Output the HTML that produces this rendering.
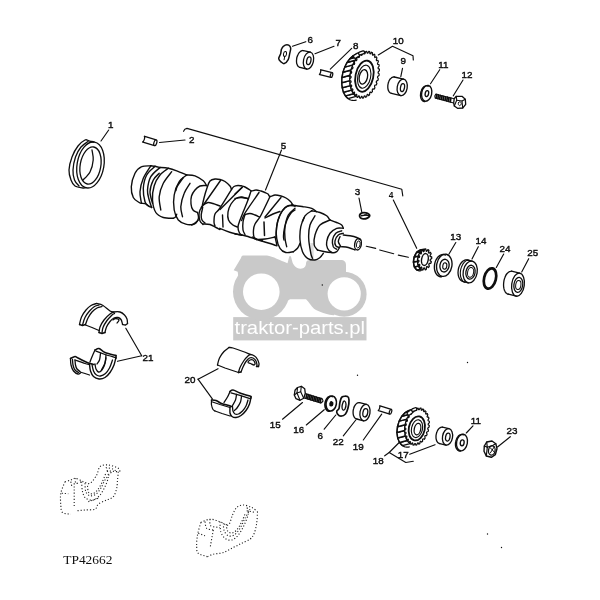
<!DOCTYPE html>
<html><head><meta charset="utf-8"><title>TP42662</title>
<style>html,body{margin:0;padding:0;background:#fff;}svg{display:block;will-change:transform;}</style></head>
<body>
<svg width="600" height="600" viewBox="0 0 600 600">
<rect width="600" height="600" fill="#ffffff"/>
<g fill="#c9c9c9" stroke="none">
<rect x="233.2" y="317.1" width="133.3" height="23.3"/>
<circle cx="261.3" cy="291.7" r="28.3"/>
<circle cx="344.1" cy="294.2" r="22.5"/>
<path d="M243 255.6 L267 255.6 C273 256.5 280 260.5 287.5 263.3 L289.3 256.2 L290.9 256.2 L292 260.5 C293 265 296 268.7 300.5 268.7 C304.5 268.7 306 266 306 263.5 C306 261 307.5 260 310 260 L340.5 260 C344.5 260 346 262 346 265 L346 272 L355 278 L345 300 L334 315.3 C327 314.5 319 312 314 308.7 C311 306 309 302 306 299.3 L290 299.3 L280 306 L240 290 L237.7 271.7 L233.7 270.3 L241 258 C241.3 256.5 242 255.6 243 255.6 Z"/>
</g>
<rect x="310.3" y="243" width="3.4" height="17" fill="#dedede"/>
<circle cx="261.3" cy="291.7" r="18.3" fill="#fff"/>
<circle cx="344.2" cy="293.8" r="16.6" fill="#fff"/>
<text x="234.5" y="333.8" font-family="Liberation Sans, sans-serif" font-size="18.4" fill="#ffffff" textLength="130.6" lengthAdjust="spacingAndGlyphs">traktor-parts.pl</text>
<path d="M150.8 165.8C149.3 166 144.3 165.4 141.7 166.7C139 167.9 136.7 170 135 173.3C133.3 176.7 131.6 182.6 131.3 186.7C131.1 190.7 132 194.9 133.3 197.5C134.6 200.1 137.8 201.5 139.2 202.5C140.6 203.5 141.2 203.2 141.7 203.3" fill="none" stroke="#0e0e0e" stroke-width="1.4" stroke-linecap="round" stroke-linejoin="round"/>
<path d="M150.8 165.8C149.6 167.9 145.1 174 143.3 178.3C141.5 182.6 140.3 187.6 140 191.7C139.7 195.7 141.1 200.7 141.3 202.5" fill="none" stroke="#0e0e0e" stroke-width="1.4" stroke-linecap="round" stroke-linejoin="round"/>
<path d="M155 166.3C153.6 167.8 148.6 171.3 146.7 175C144.7 178.7 143.6 183.9 143.3 188.3C143.1 192.8 144.2 198.8 145 201.7C145.8 204.6 147.8 205.1 148.3 205.8" fill="none" stroke="#0e0e0e" stroke-width="1.4" stroke-linecap="round" stroke-linejoin="round"/>
<path d="M160 167.5C158.5 169 152.9 172.9 150.8 176.7C148.8 180.4 147.8 186.1 147.5 190C147.2 193.9 148.5 197.1 149.2 200C149.9 202.9 151.2 206.2 151.7 207.5" fill="none" stroke="#0e0e0e" stroke-width="1.4" stroke-linecap="round" stroke-linejoin="round"/>
<path d="M159.2 173.3C158.2 174.4 154.9 176.9 153.3 180C151.8 183.1 150.1 187.8 150 191.7C149.9 195.6 152.1 201.4 152.5 203.3" fill="none" stroke="#0e0e0e" stroke-width="1.4" stroke-linecap="round" stroke-linejoin="round"/>
<path d="M150.8 165.8C151.5 165.9 153.5 166.1 155 166.3C156.5 166.6 159.2 167.3 160 167.5" fill="none" stroke="#0e0e0e" stroke-width="1.4" stroke-linecap="round" stroke-linejoin="round"/>
<path d="M141.7 203.3C142.2 203.4 143.9 203.2 145 203.7C146.1 204.1 147.2 205.2 148.3 205.8C149.4 206.5 151.1 207.2 151.7 207.5" fill="none" stroke="#0e0e0e" stroke-width="1.4" stroke-linecap="round" stroke-linejoin="round"/>
<path d="M160 167.5C161.4 167.6 165.6 167.8 168.3 168.3C171.1 168.9 173.6 169.7 176.7 170.8C179.7 171.9 185 174.3 186.7 175" fill="none" stroke="#0e0e0e" stroke-width="1.4" stroke-linecap="round" stroke-linejoin="round"/>
<path d="M168.3 168.3C166.9 169.4 162.4 172.1 160 175C157.6 177.9 155.4 181.7 154.2 185.8C152.9 190 152.2 195.6 152.5 200C152.8 204.4 154 209.6 155.8 212.5C157.6 215.4 160.4 216.5 163.3 217.5C166.2 218.5 171.7 218.2 173.3 218.3" fill="none" stroke="#0e0e0e" stroke-width="1.4" stroke-linecap="round" stroke-linejoin="round"/>
<path d="M171.7 171.7C170.3 173.6 165.4 179.2 163.3 183.3C161.2 187.5 159.6 192.2 159.2 196.7C158.8 201.1 160.6 207.8 160.8 210" fill="none" stroke="#0e0e0e" stroke-width="1.4" stroke-linecap="round" stroke-linejoin="round"/>
<path d="M186.7 175C185.4 176.1 181.2 178.3 179.2 181.7C177.1 185 175 190.3 174.2 195C173.3 199.7 173.5 205.8 174.2 210C174.9 214.2 176.4 217.6 178.3 220C180.3 222.4 183.3 223.5 185.8 224.2C188.3 224.9 191.2 224.9 193.3 224.2C195.4 223.5 197.5 220.7 198.3 220" fill="none" stroke="#0e0e0e" stroke-width="1.4" stroke-linecap="round" stroke-linejoin="round"/>
<path d="M186.7 175C188.1 175.1 192.2 174.9 195 175.8C197.8 176.8 201.4 179.2 203.3 180.8C205.3 182.5 206.1 185 206.7 185.8" fill="none" stroke="#0e0e0e" stroke-width="1.4" stroke-linecap="round" stroke-linejoin="round"/>
<path d="M183.3 177.5C182.4 178.9 178.8 183.6 177.5 185.8C176.2 188.1 176.1 190 175.8 190.8" fill="none" stroke="#0e0e0e" stroke-width="1.4" stroke-linecap="round" stroke-linejoin="round"/>
<path d="M190 183.3C189 185 185.7 189.4 184.2 193.3C182.6 197.2 181.1 202.8 180.8 206.7C180.6 210.6 182.2 215 182.5 216.7" fill="none" stroke="#0e0e0e" stroke-width="1.4" stroke-linecap="round" stroke-linejoin="round"/>
<path d="M173.3 218.3C173.8 218.1 175.3 217.4 175.8 216.7C176.4 216 176.5 214.6 176.7 214.2" fill="none" stroke="#0e0e0e" stroke-width="1.4" stroke-linecap="round" stroke-linejoin="round"/>
<path d="M206 185.5C205 185.6 201.8 185.2 200 186C198.2 186.8 196.4 188.3 195 190C193.6 191.7 192.2 193.7 191.5 196C190.8 198.3 190.8 201.7 191 204C191.2 206.3 191.9 208.6 193 210C194.1 211.4 196.8 212.1 197.5 212.5" fill="none" stroke="#0e0e0e" stroke-width="1.4" stroke-linecap="round" stroke-linejoin="round"/>
<path d="M197.5 212.5C197.7 213.4 198.8 216.2 198.5 218C198.2 219.8 197.2 221.8 196 223C194.8 224.2 192.2 224.7 191.5 225" fill="none" stroke="#0e0e0e" stroke-width="1.4" stroke-linecap="round" stroke-linejoin="round"/>
<path d="M202 207C202.3 205.5 203.2 201.2 204 198C204.8 194.8 206 190.8 207 188C208 185.2 208.7 182.5 210 181C211.3 179.5 213.3 179.2 215 179C216.7 178.8 218.3 179.1 220 179.5C221.7 179.9 223.3 180.4 225 181.5C226.7 182.6 228.9 184.7 230 186C231.1 187.3 231.2 188.9 231.5 189.5" fill="none" stroke="#0e0e0e" stroke-width="1.4" stroke-linecap="round" stroke-linejoin="round"/>
<path d="M220.5 180.5L203 205.5" fill="none" stroke="#0e0e0e" stroke-width="1.4" stroke-linecap="round" stroke-linejoin="round"/>
<path d="M204 204.5C204.7 204.2 206.5 202.7 208 202.5C209.5 202.3 211 202.9 213 203.5C215 204.1 218.8 205.6 220 206" fill="none" stroke="#0e0e0e" stroke-width="1.4" stroke-linecap="round" stroke-linejoin="round"/>
<path d="M202 207C201.7 207.5 200.5 208.7 200 210C199.5 211.3 199 213.2 199 215C199 216.8 199.3 219.4 200 221C200.7 222.6 202.5 223.9 203 224.5" fill="none" stroke="#0e0e0e" stroke-width="1.4" stroke-linecap="round" stroke-linejoin="round"/>
<path d="M202.5 208.5C202.3 209.6 201.3 213.1 201.2 215C201.1 216.9 201.4 218.7 202 220C202.6 221.3 204.5 222.5 205 223" fill="none" stroke="#0e0e0e" stroke-width="1.4" stroke-linecap="round" stroke-linejoin="round"/>
<circle cx="202" cy="207.3" r="1.3" fill="#0e0e0e"/>
<path d="M203 224C204.2 224.1 207.8 223.9 210 224.5C212.2 225.1 214.3 226.7 216 227.5C217.7 228.3 219.3 229.2 220 229.5" fill="none" stroke="#0e0e0e" stroke-width="1.4" stroke-linecap="round" stroke-linejoin="round"/>
<path d="M231.5 189.5C229.6 192.6 222.8 203.9 220 208C217.2 212.1 216 211.7 215 214C214 216.3 214 220 214 222C214 224 214.8 225.3 215 226" fill="none" stroke="#0e0e0e" stroke-width="1.4" stroke-linecap="round" stroke-linejoin="round"/>
<path d="M242 187.5L220 209.5" fill="none" stroke="#0e0e0e" stroke-width="1.4" stroke-linecap="round" stroke-linejoin="round"/>
<path d="M231.5 189.5C231.9 189 232.9 187.2 234 186.5C235.1 185.8 236.8 185.6 238 185.5C239.2 185.4 240.5 185.8 241 185.8" fill="none" stroke="#0e0e0e" stroke-width="1.4" stroke-linecap="round" stroke-linejoin="round"/>
<path d="M222.5 215L223 227" fill="none" stroke="#0e0e0e" stroke-width="1.4" stroke-linecap="round" stroke-linejoin="round"/>
<path d="M248 199C247 198.7 244 197.1 242 197C240 196.9 237.8 197.3 236 198.5C234.2 199.7 232.3 201.8 231 204C229.7 206.2 228.4 209.3 228 212C227.6 214.7 227.7 217.8 228.5 220C229.3 222.2 231.5 223.8 233 225C234.5 226.2 236.8 226.7 237.5 227" fill="none" stroke="#0e0e0e" stroke-width="1.4" stroke-linecap="round" stroke-linejoin="round"/>
<path d="M241 185.7C241.7 185.9 243.5 186.3 245 187C246.5 187.7 248.9 189.3 250 190C251.1 190.7 250.5 191 251.5 191C252.5 191 254.4 190 256 190C257.6 190 259.5 190.6 261 191C262.5 191.4 263.8 192 265 192.5C266.2 193 267.2 193.3 268 194C268.8 194.7 268.8 196.3 270 196.5C271.2 196.7 273.2 195.1 275 195C276.8 194.9 279.2 195.5 281 196C282.8 196.5 284.4 197.1 286 198C287.6 198.9 289.3 200.3 290.5 201.5C291.7 202.7 292.2 204.2 293 205C293.8 205.8 294.7 205.8 295 206" fill="none" stroke="#0e0e0e" stroke-width="1.4" stroke-linecap="round" stroke-linejoin="round"/>
<path d="M242.5 187L235 194" fill="none" stroke="#0e0e0e" stroke-width="1.4" stroke-linecap="round" stroke-linejoin="round"/>
<path d="M235 198.5C236 198.3 238.8 197.5 241 197.5C243.2 197.5 246.8 198.3 248 198.5" fill="none" stroke="#0e0e0e" stroke-width="1.4" stroke-linecap="round" stroke-linejoin="round"/>
<path d="M251 191C250.5 192.5 249.2 196.8 248 200C246.8 203.2 245.3 206.7 244 210C242.7 213.3 241 217.2 240 220C239 222.8 238.1 224.8 238 227C237.9 229.2 238.8 231.7 239.5 233C240.2 234.3 241.6 234.7 242 235" fill="none" stroke="#0e0e0e" stroke-width="1.4" stroke-linecap="round" stroke-linejoin="round"/>
<path d="M259 192.5C256.7 195.9 247.9 208.3 245 213C242.1 217.7 242.2 219.2 241.6 220.5" fill="none" stroke="#0e0e0e" stroke-width="1.4" stroke-linecap="round" stroke-linejoin="round"/>
<path d="M245 214.5C245.8 214.3 248.3 213.4 250 213.5C251.7 213.6 253.4 214.4 255 215C256.6 215.6 258.8 216.7 259.5 217" fill="none" stroke="#0e0e0e" stroke-width="1.4" stroke-linecap="round" stroke-linejoin="round"/>
<path d="M245 214.5C244.7 215.8 243.3 219.4 243 222C242.7 224.6 242.7 227.9 243 230C243.3 232.1 244.7 233.8 245 234.5" fill="none" stroke="#0e0e0e" stroke-width="1.4" stroke-linecap="round" stroke-linejoin="round"/>
<path d="M270 196.5C269.2 198.2 266.7 203.6 265 207C263.3 210.4 261.7 214.2 260 217C258.3 219.8 256.1 221.8 255 224C253.9 226.2 253.7 227.8 253.5 230C253.3 232.2 253.5 235.4 254 237C254.5 238.6 256.1 239.1 256.5 239.5" fill="none" stroke="#0e0e0e" stroke-width="1.4" stroke-linecap="round" stroke-linejoin="round"/>
<path d="M281 197.5L265 217" fill="none" stroke="#0e0e0e" stroke-width="1.4" stroke-linecap="round" stroke-linejoin="round"/>
<path d="M265 218C266.3 217.3 270.5 215.1 273 214C275.5 212.9 278.8 211.9 280 211.5" fill="none" stroke="#0e0e0e" stroke-width="1.4" stroke-linecap="round" stroke-linejoin="round"/>
<path d="M264 222L264.5 235.5" fill="none" stroke="#0e0e0e" stroke-width="1.5" stroke-linecap="round" stroke-linejoin="round"/>
<path d="M295 206C294 205.9 290.7 205.2 289 205.5C287.3 205.8 286.3 206.8 285 208C283.7 209.2 282.2 211 281 213C279.8 215 278.8 217.5 278 220C277.2 222.5 276.8 225.3 276.5 228C276.2 230.7 276.1 234.7 276 236" fill="none" stroke="#0e0e0e" stroke-width="1.4" stroke-linecap="round" stroke-linejoin="round"/>
<path d="M295 210C294.3 210.5 292.3 211.3 291 213C289.7 214.7 288.1 217.5 287 220C285.9 222.5 285.1 225.3 284.5 228C283.9 230.7 283.6 234 283.5 236C283.4 238 283.9 239.3 284 240" fill="none" stroke="#0e0e0e" stroke-width="1.4" stroke-linecap="round" stroke-linejoin="round"/>
<path d="M235 234C236.2 234.2 239.8 234.6 242 235C244.2 235.4 245.8 235.8 248 236.5C250.2 237.2 253.8 238.6 255 239" fill="none" stroke="#0e0e0e" stroke-width="1.4" stroke-linecap="round" stroke-linejoin="round"/>
<path d="M256.5 239.5C257.9 239.4 261.9 239.4 265 239C268.1 238.6 273.3 237.3 275 237" fill="none" stroke="#0e0e0e" stroke-width="1.4" stroke-linecap="round" stroke-linejoin="round"/>
<path d="M219.7 228.3C220.2 228.6 220.9 228.9 223 229.7C225.1 230.4 229.2 232.1 232.3 233C235.4 233.9 240.1 234.9 241.7 235.3" fill="none" stroke="#0e0e0e" stroke-width="1.4" stroke-linecap="round" stroke-linejoin="round"/>
<path d="M252.3 237C253.4 237.6 257.4 239.7 259 240.3C260.6 241 260.1 240.6 261.7 241C263.2 241.4 265.9 242.2 268.3 243C270.8 243.8 275 245.2 276.3 245.7" fill="none" stroke="#0e0e0e" stroke-width="1.4" stroke-linecap="round" stroke-linejoin="round"/>
<path d="M275 236.6L277 245.7" fill="none" stroke="#0e0e0e" stroke-width="1.4" stroke-linecap="round" stroke-linejoin="round"/>
<circle cx="261.7" cy="240.2" r="1.2" fill="#0e0e0e"/>
<path d="M291.7 205C290.6 205.4 286.9 205.8 285 207.5C283.1 209.2 281.4 211.8 280 215C278.6 218.2 277.2 222.8 276.7 226.7C276.1 230.6 276.1 234.7 276.7 238.3C277.2 241.9 278.5 246 280 248.3C281.5 250.7 283.6 251.9 285.8 252.5C288.1 253.1 292.1 251.8 293.3 251.7" fill="none" stroke="#0e0e0e" stroke-width="1.4" stroke-linecap="round" stroke-linejoin="round"/>
<path d="M291.7 205C293.6 205.3 300 206.1 303.3 206.7C306.7 207.2 309.4 207.5 311.7 208.3C313.9 209.2 315.8 211.1 316.7 211.7" fill="none" stroke="#0e0e0e" stroke-width="1.4" stroke-linecap="round" stroke-linejoin="round"/>
<path d="M295 208.3C293.9 209.4 290 211.9 288.3 215C286.7 218.1 285.6 222.8 285 226.7C284.4 230.6 284.7 235 285 238.3C285.3 241.7 286.4 245.3 286.7 246.7" fill="none" stroke="#0e0e0e" stroke-width="1.4" stroke-linecap="round" stroke-linejoin="round"/>
<path d="M293.3 251.7C294 251.1 296.4 249.7 297.5 248.3C298.6 246.9 299.6 244.2 300 243.3" fill="none" stroke="#0e0e0e" stroke-width="1.4" stroke-linecap="round" stroke-linejoin="round"/>
<path d="M311.7 210.8C310.6 211.7 306.8 213.2 305 215.8C303.2 218.5 301.7 222.6 300.8 226.7C300 230.7 299.7 235.8 300 240C300.3 244.2 301.2 248.6 302.5 251.7C303.8 254.7 305.4 256.9 307.5 258.3C309.6 259.7 312.9 260.1 315 260C317.1 259.9 318.6 258.6 320 257.5C321.4 256.4 322.8 254 323.3 253.3" fill="none" stroke="#0e0e0e" stroke-width="1.4" stroke-linecap="round" stroke-linejoin="round"/>
<path d="M311.7 210.8C313.1 211.1 317.5 211.7 320 212.5C322.5 213.3 325 214.6 326.7 215.8C328.3 217.1 329.4 219.3 330 220" fill="none" stroke="#0e0e0e" stroke-width="1.4" stroke-linecap="round" stroke-linejoin="round"/>
<path d="M315 215.8C314.2 217.4 311.1 221.2 310 225C308.9 228.8 308.5 233.6 308.7 238.3C308.8 243.1 310.2 250 310.8 253.3C311.5 256.7 312.2 257.5 312.5 258.3" fill="none" stroke="#0e0e0e" stroke-width="1.4" stroke-linecap="round" stroke-linejoin="round"/>
<path d="M304.2 217.5L302.5 221.7" fill="none" stroke="#0e0e0e" stroke-width="1.4" stroke-linecap="round" stroke-linejoin="round"/>
<path d="M330 220C328.3 220.8 322.5 222.5 320 225C317.5 227.5 316 231.7 315 235C314 238.3 313.8 242.5 314.2 245C314.6 247.5 316.9 249.2 317.5 250" fill="none" stroke="#0e0e0e" stroke-width="1.4" stroke-linecap="round" stroke-linejoin="round"/>
<path d="M330 220C331.1 220.4 334.7 221.7 336.7 222.5C338.6 223.3 340.6 224 341.7 225C342.8 226 343.1 227.8 343.3 228.3" fill="none" stroke="#0e0e0e" stroke-width="1.4" stroke-linecap="round" stroke-linejoin="round"/>
<path d="M317.5 250C318.8 250.3 322.6 251.3 325 251.7C327.4 252.1 330.6 252.4 331.7 252.5" fill="none" stroke="#0e0e0e" stroke-width="1.4" stroke-linecap="round" stroke-linejoin="round"/>
<path d="M343.3 228.3C342.2 228.3 338.9 227.5 336.7 228.3C334.4 229.2 331.7 231.1 330 233.3C328.3 235.6 327.1 239.2 326.7 241.7C326.2 244.2 326.7 246.5 327.5 248.3C328.3 250.1 330.1 251.9 331.7 252.5C333.2 253.1 335.3 252.6 336.7 251.7C338.1 250.7 339.4 247.5 340 246.7" fill="none" stroke="#0e0e0e" stroke-width="1.4" stroke-linecap="round" stroke-linejoin="round"/>
<path d="M341.7 230.8C340.7 231.2 337.4 231.8 335.8 233.3C334.3 234.9 332.9 237.8 332.5 240C332.1 242.2 332.6 245.1 333.3 246.7C334 248.2 336.1 248.8 336.7 249.2" fill="none" stroke="#0e0e0e" stroke-width="1.4" stroke-linecap="round" stroke-linejoin="round"/>
<path d="M343.3 233.3C342.5 233.6 339.7 233.8 338.3 235C336.9 236.2 335.4 239 335 240.8C334.6 242.6 335.1 244.7 335.8 245.8C336.5 246.9 338.6 247.2 339.2 247.5" fill="none" stroke="#0e0e0e" stroke-width="1.4" stroke-linecap="round" stroke-linejoin="round"/>
<path d="M343.3 235C344.4 235.1 347.8 235.4 350 235.8C352.2 236.2 354.9 236.8 356.7 237.5C358.5 238.2 360.1 239.6 360.8 240" fill="none" stroke="#0e0e0e" stroke-width="1.4" stroke-linecap="round" stroke-linejoin="round"/>
<path d="M341.7 246.7C342.8 246.8 346.1 246.9 348.3 247.5C350.6 248.1 353.9 249.6 355 250" fill="none" stroke="#0e0e0e" stroke-width="1.4" stroke-linecap="round" stroke-linejoin="round"/>
<path d="M340 236.7C339.7 237.5 338.2 240 338.3 241.7C338.5 243.3 340.4 245.8 340.8 246.7" fill="none" stroke="#0e0e0e" stroke-width="1.4" stroke-linecap="round" stroke-linejoin="round"/>
<ellipse cx="358" cy="244.2" rx="3.3" ry="5.8" fill="none" stroke="#0e0e0e" stroke-width="1.4" transform="rotate(10 358 244.2)"/>
<ellipse cx="358.3" cy="244.4" rx="1.8" ry="3.6" fill="none" stroke="#0e0e0e" stroke-width="0.9" transform="rotate(10 358.3 244.4)"/>
<ellipse cx="90.5" cy="165" rx="13.4" ry="23.2" fill="none" stroke="#0e0e0e" stroke-width="1.3" transform="rotate(10 90.5 165)"/>
<ellipse cx="90.5" cy="165.5" rx="10.3" ry="18.8" fill="none" stroke="#0e0e0e" stroke-width="1.3" transform="rotate(10 90.5 165.5)"/>
<path d="M92 150C92.2 151.7 93.5 156.3 93.2 160C92.9 163.7 91.7 168.7 90 172C88.3 175.3 84.2 178.7 83 180" fill="none" stroke="#0e0e0e" stroke-width="1.3" stroke-linecap="round" stroke-linejoin="round"/>
<path d="M94 142C93.2 141.8 90.5 141.1 89 140.8C87.5 140.5 86.8 139.1 85 140C83.2 140.9 80.2 143.2 78 146C75.8 148.8 73.5 153 72 157C70.5 161 69.2 166.2 69 170C68.8 173.8 70 177.3 71 180C72 182.7 73 184.7 75 186C77 187.3 81.1 187.7 83 188C84.9 188.3 85.7 187.7 86.2 187.6" fill="none" stroke="#0e0e0e" stroke-width="1.3" stroke-linecap="round" stroke-linejoin="round"/>
<path d="M88 141.5C86.8 142.4 83.1 144.4 81 147C78.9 149.6 76.8 153.2 75.5 157C74.2 160.8 73.2 166.2 73 170C72.8 173.8 73.5 177.3 74.5 180C75.5 182.7 78.2 185 79 186" fill="none" stroke="#0e0e0e" stroke-width="1.3" stroke-linecap="round" stroke-linejoin="round"/>
<path d="M89 141.2 L92.5 140.8 L94 142.6 Z" fill="#0e0e0e"/>
<g transform="translate(143 139) rotate(17.2)">
<path d="M12.9 -3 L0 -3 A1.4 3 0 0 1 0 3 L12.9 3" fill="#fff" stroke="#0e0e0e" stroke-width="1.25"/>
<ellipse cx="12.9" cy="0" rx="1.4" ry="3" fill="#fff" stroke="#0e0e0e" stroke-width="1.25"/>
</g>
<path d="M285.2 45.1C286.4 44.5 287.8 44.6 288.7 45.1C289.6 45.6 290.5 46.7 290.7 48.1C290.9 49.5 290.1 51.7 289.7 53.6C289.3 55.5 289.1 57.9 288.2 59.6C287.3 61.3 285.4 63.3 284.2 63.6C282.9 63.9 281.6 62.4 280.7 61.6C279.8 60.8 278.7 59.9 278.7 58.6C278.7 57.3 280.2 55.3 280.7 53.6C281.2 51.9 280.9 50 281.7 48.6C282.4 47.2 284 45.7 285.2 45.1Z" fill="#fff" stroke="#0e0e0e" stroke-width="1.5" stroke-linecap="round" stroke-linejoin="round"/>
<ellipse cx="285" cy="54" rx="1.5" ry="2.5" fill="none" stroke="#0e0e0e" stroke-width="1.0" transform="rotate(10 285 54)"/>
<path d="M284.7 56.6L284.1 59.8" fill="none" stroke="#0e0e0e" stroke-width="1.0" stroke-linecap="round" stroke-linejoin="round"/>
<path d="M299.9 67.4C299.8 67.4 299.3 67.2 299 67C298.7 66.9 298.4 66.6 298.2 66.4C297.9 66.1 297.7 65.8 297.5 65.4C297.3 65.1 297.1 64.6 297 64.2C296.8 63.8 296.7 63.3 296.6 62.8C296.6 62.3 296.5 61.8 296.5 61.3C296.5 60.7 296.5 60.2 296.6 59.6C296.6 59.1 296.7 58.5 296.8 58C296.9 57.4 297.1 56.9 297.3 56.3C297.4 55.8 297.6 55.3 297.9 54.8C298.1 54.3 298.4 53.9 298.6 53.5C298.9 53 299.2 52.7 299.5 52.3C299.8 52 300.1 51.7 300.5 51.4C300.8 51.2 301.1 51 301.5 50.8C301.8 50.7 302.2 50.6 302.5 50.5C302.8 50.5 303.3 50.6 303.5 50.6" fill="none" stroke="#0e0e0e" stroke-width="1.3" stroke-linecap="round" stroke-linejoin="round"/>
<path d="M310.3 52.2L303.5 50.6" fill="none" stroke="#0e0e0e" stroke-width="1.3" stroke-linecap="round" stroke-linejoin="round"/>
<path d="M306.7 69L299.9 67.4" fill="none" stroke="#0e0e0e" stroke-width="1.3" stroke-linecap="round" stroke-linejoin="round"/>
<ellipse cx="308.5" cy="60.6" rx="5" ry="8.6" fill="none" stroke="#0e0e0e" stroke-width="1.3" transform="rotate(12 308.5 60.6)"/>
<ellipse cx="308.8" cy="60.8" rx="2.1" ry="3.9" fill="none" stroke="#0e0e0e" stroke-width="1.3" transform="rotate(12 308.8 60.8)"/>
<g transform="translate(319.5 72) rotate(14)">
<path d="M12.4 -2.5 L0 -2.5 A1.1 2.5 0 0 1 0 2.5 L12.4 2.5" fill="#fff" stroke="#0e0e0e" stroke-width="1.25"/>
<ellipse cx="12.4" cy="0" rx="1.1" ry="2.5" fill="#fff" stroke="#0e0e0e" stroke-width="1.25"/>
</g>
<path d="M356.2 100.1L355.1 100.3L353.9 100.5L352.8 100.4L351.7 100.3L350.7 100L349.6 99.6L348.7 99L347.7 98.3L346.8 97.5L346 96.6L345.2 95.5L344.5 94.4L343.9 93.1L343.3 91.7L342.9 90.3L342.5 88.8L342.2 87.2L341.9 85.5L341.8 83.8L341.8 82L341.8 80.3L341.9 78.5L342.1 76.6L342.4 74.8L342.8 73L343.3 71.3L343.8 69.5L344.5 67.9L345.2 66.2L345.9 64.6L346.7 63.1L347.6 61.7L348.6 60.4L349.6 59.2L350.6 58L351.6 57L352.7 56.1L353.8 55.4L355 54.7L356.1 54.2L357.3 53.9L358.4 53.6L359.5 53.5L360.6 53.6L361.7 53.8L362.8 54.1L363.8 54.5L364.8 55.1" fill="none" stroke="#0e0e0e" stroke-width="1.2" stroke-linecap="round" stroke-linejoin="round"/>
<path d="M354 95.1L353.3 94.6L352.7 93.9L352.1 93.2L351.5 92.4L351 91.6L350.5 90.7L350.1 89.7L349.7 88.7L349.3 87.6L349 86.5L348.8 85.3L348.6 84.1L348.5 82.8L348.4 81.6L348.3 80.3L348.4 78.9L348.4 77.6L348.6 76.3L348.7 74.9L349 73.6L349.2 72.3L349.6 71L349.9 69.7L350.4 68.4L350.8 67.2L351.3 65.9L351.9 64.8L352.5 63.6L353.1 62.6L353.8 61.5L354.5 60.5L355.2 59.6L356 58.8L356.7 58L357.5 57.3L358.3 56.6L359.2 56L360 55.5L360.8 55.1L361.7 54.8" fill="none" stroke="#0e0e0e" stroke-width="1.2" stroke-linecap="round" stroke-linejoin="round"/>
<path d="M356 96.4L353.5 93.7L345.5 95.9L348 98.6Z" fill="#fff" stroke="#0e0e0e" stroke-width="1.45" stroke-linecap="round" stroke-linejoin="round"/>
<path d="M353.5 93.7L351.5 90.1L343.5 92.3L345.5 95.9Z" fill="#fff" stroke="#0e0e0e" stroke-width="1.45" stroke-linecap="round" stroke-linejoin="round"/>
<path d="M351.5 90.1L350.3 85.6L342.3 87.8L343.5 92.3Z" fill="#fff" stroke="#0e0e0e" stroke-width="1.45" stroke-linecap="round" stroke-linejoin="round"/>
<path d="M350.3 85.6L349.8 80.6L341.8 82.8L342.3 87.8Z" fill="#fff" stroke="#0e0e0e" stroke-width="1.45" stroke-linecap="round" stroke-linejoin="round"/>
<path d="M349.8 80.6L350 75.3L342 77.5L341.8 82.8Z" fill="#fff" stroke="#0e0e0e" stroke-width="1.45" stroke-linecap="round" stroke-linejoin="round"/>
<path d="M350 75.3L351 70L343 72.2L342 77.5Z" fill="#fff" stroke="#0e0e0e" stroke-width="1.45" stroke-linecap="round" stroke-linejoin="round"/>
<path d="M351 70L352.8 64.9L344.8 67.1L343 72.2Z" fill="#fff" stroke="#0e0e0e" stroke-width="1.45" stroke-linecap="round" stroke-linejoin="round"/>
<path d="M352.8 64.9L355.1 60.3L347.1 62.5L344.8 67.1Z" fill="#fff" stroke="#0e0e0e" stroke-width="1.45" stroke-linecap="round" stroke-linejoin="round"/>
<path d="M355.1 60.3L357.9 56.5L349.9 58.7L347.1 62.5Z" fill="#fff" stroke="#0e0e0e" stroke-width="1.45" stroke-linecap="round" stroke-linejoin="round"/>
<path d="M357.9 56.5L361.1 53.7L353.1 55.9L349.9 58.7Z" fill="#fff" stroke="#0e0e0e" stroke-width="1.45" stroke-linecap="round" stroke-linejoin="round"/>
<path d="M361.1 53.7L364.5 51.9L356.5 54.1L353.1 55.9Z" fill="#fff" stroke="#0e0e0e" stroke-width="1.45" stroke-linecap="round" stroke-linejoin="round"/>
<path d="M377.5 77.5L378.3 78.8L377.9 80.4L376.6 81L376.2 81.9L376.9 83.6L376.3 85L374.9 85.2L374.5 86L374.9 87.9L374.1 89.2L372.8 88.9L372.3 89.6L372.4 91.7L371.5 92.7L370.4 92L369.8 92.5L369.6 94.7L368.7 95.5L367.7 94.3L367.1 94.7L366.6 96.8L365.6 97.3L364.9 95.8L364.2 96L363.5 98L362.5 98.2L362 96.4L361.4 96.4L360.5 98.2L359.5 98L359.3 96L358.7 95.8L357.6 97.4L356.7 96.9L356.8 94.7L356.3 94.3L355 95.5L354.3 94.7L354.6 92.6L354.2 92L352.9 92.8L352.3 91.7L352.9 89.6L352.6 88.9L351.3 89.3L350.8 88L351.7 86L351.5 85.2L350.2 85.1L350 83.6L351.1 82L351 81L349.8 80.5L349.8 78.9L351 77.6L351.1 76.6L350 75.7L350.2 74L351.5 73.1L351.7 72.1L350.9 70.8L351.3 69.2L352.6 68.6L353 67.7L352.3 66L352.9 64.6L354.3 64.4L354.7 63.6L354.3 61.7L355.1 60.4L356.4 60.7L356.9 60L356.8 57.9L357.7 56.9L358.8 57.6L359.4 57.1L359.6 54.9L360.5 54.1L361.5 55.3L362.1 54.9L362.6 52.8L363.6 52.3L364.3 53.8L365 53.6L365.7 51.6L366.7 51.4L367.2 53.2L367.8 53.2L368.7 51.4L369.7 51.6L369.9 53.6L370.5 53.8L371.6 52.2L372.5 52.7L372.4 54.9L372.9 55.3L374.2 54.1L374.9 54.9L374.6 57L375 57.6L376.3 56.8L376.9 57.9L376.3 60L376.6 60.7L377.9 60.3L378.4 61.6L377.5 63.6L377.7 64.4L379 64.5L379.2 66L378.1 67.6L378.2 68.6L379.4 69.1L379.4 70.7L378.2 72L378.1 73L379.2 73.9L379 75.6L377.7 76.5Z" fill="#fff" stroke="#0e0e0e" stroke-width="1.2" stroke-linecap="round" stroke-linejoin="round"/>
<ellipse cx="364.4" cy="76.2" rx="8.9" ry="15.8" fill="none" stroke="#0e0e0e" stroke-width="1.8" transform="rotate(12 364.4 76.2)"/>
<ellipse cx="364.2" cy="76.7" rx="6.4" ry="11.7" fill="none" stroke="#0e0e0e" stroke-width="1.1" transform="rotate(12 364.2 76.7)"/>
<ellipse cx="363.4" cy="76.9" rx="4.1" ry="7.3" fill="none" stroke="#0e0e0e" stroke-width="1.3" transform="rotate(12 363.4 76.9)"/>
<rect x="353.5" y="53.9" width="6.2" height="3.4" rx="1.1" fill="#fff" stroke="#0e0e0e" stroke-width="1.3" transform="rotate(-32 356.6 55.6)"/>
<rect x="358.6" y="51.5" width="6" height="2.8" rx="1.1" fill="#fff" stroke="#0e0e0e" stroke-width="1.3" transform="rotate(-18 361.6 52.9)"/>
<path d="M391.5 93.4C391.3 93.3 390.8 93.2 390.5 93C390.2 92.9 389.9 92.7 389.7 92.4C389.4 92.2 389.2 91.9 389 91.5C388.8 91.2 388.6 90.8 388.4 90.4C388.2 90 388.1 89.5 388 89C387.9 88.5 387.8 88 387.8 87.5C387.8 87 387.8 86.5 387.8 85.9C387.8 85.4 387.9 84.9 388 84.3C388.1 83.8 388.2 83.3 388.4 82.8C388.5 82.2 388.7 81.7 388.9 81.3C389.1 80.8 389.4 80.3 389.6 79.9C389.9 79.5 390.1 79.1 390.4 78.8C390.7 78.5 391 78.2 391.4 77.9C391.7 77.7 392 77.5 392.3 77.3C392.7 77.2 393 77.1 393.4 77C393.7 77 394.2 77 394.3 77" fill="none" stroke="#0e0e0e" stroke-width="1.3" stroke-linecap="round" stroke-linejoin="round"/>
<path d="M403.6 79.2L394.3 77" fill="none" stroke="#0e0e0e" stroke-width="1.3" stroke-linecap="round" stroke-linejoin="round"/>
<path d="M400.8 95.6L391.5 93.4" fill="none" stroke="#0e0e0e" stroke-width="1.3" stroke-linecap="round" stroke-linejoin="round"/>
<ellipse cx="402.2" cy="87.4" rx="5" ry="8.3" fill="none" stroke="#0e0e0e" stroke-width="1.3" transform="rotate(10 402.2 87.4)"/>
<ellipse cx="402.5" cy="87.6" rx="2" ry="4" fill="none" stroke="#0e0e0e" stroke-width="1.3" transform="rotate(10 402.5 87.6)"/>
<path d="M424.9 101.5C424.7 101.5 424.1 101.5 423.7 101.3C423.3 101.2 422.9 101 422.6 100.7C422.2 100.4 421.9 100 421.6 99.6C421.4 99.2 421.2 98.7 421 98.2C420.8 97.6 420.7 97 420.6 96.4C420.5 95.8 420.5 95.2 420.6 94.5C420.6 93.9 420.7 93.2 420.8 92.6C420.9 91.9 421.1 91.3 421.4 90.7C421.6 90.1 421.9 89.5 422.2 88.9C422.5 88.4 422.9 87.9 423.2 87.5C423.6 87.1 424 86.7 424.4 86.5C424.9 86.2 425.3 86 425.7 85.9C426.1 85.7 426.6 85.7 427 85.7C427.4 85.8 428 86 428.2 86.1" fill="none" stroke="#0e0e0e" stroke-width="1.4" stroke-linecap="round" stroke-linejoin="round"/>
<ellipse cx="426.7" cy="93.3" rx="5" ry="8" fill="none" stroke="#0e0e0e" stroke-width="1.35" transform="rotate(12 426.7 93.3)"/>
<ellipse cx="426.9" cy="93.6" rx="1.7" ry="3" fill="none" stroke="#0e0e0e" stroke-width="1.35" transform="rotate(12 426.9 93.6)"/>
<path d="M435.8 94.2L454.2 98.7" fill="none" stroke="#0e0e0e" stroke-width="1.1" stroke-linecap="round" stroke-linejoin="round"/>
<path d="M435.3 98L453.7 103" fill="none" stroke="#0e0e0e" stroke-width="1.1" stroke-linecap="round" stroke-linejoin="round"/>
<path d="M435.8 94.2C435.7 94.5 434.9 95.4 434.8 96C434.8 96.6 435.2 97.7 435.3 98" fill="none" stroke="#0e0e0e" stroke-width="1.1" stroke-linecap="round" stroke-linejoin="round"/>
<path d="M436.7 94.4L436.2 98.1" fill="none" stroke="#0e0e0e" stroke-width="1.7" stroke-linecap="round" stroke-linejoin="round"/>
<path d="M438.4 94.9L437.9 98.6" fill="none" stroke="#0e0e0e" stroke-width="1.7" stroke-linecap="round" stroke-linejoin="round"/>
<path d="M440.2 95.3L439.7 99" fill="none" stroke="#0e0e0e" stroke-width="1.7" stroke-linecap="round" stroke-linejoin="round"/>
<path d="M442 95.8L441.5 99.5" fill="none" stroke="#0e0e0e" stroke-width="1.7" stroke-linecap="round" stroke-linejoin="round"/>
<path d="M443.7 96.3L443.2 99.9" fill="none" stroke="#0e0e0e" stroke-width="1.7" stroke-linecap="round" stroke-linejoin="round"/>
<path d="M445.5 96.8L445 100.4" fill="none" stroke="#0e0e0e" stroke-width="1.7" stroke-linecap="round" stroke-linejoin="round"/>
<path d="M447.3 97.2L446.8 100.9" fill="none" stroke="#0e0e0e" stroke-width="1.7" stroke-linecap="round" stroke-linejoin="round"/>
<path d="M449 97.7L448.5 101.3" fill="none" stroke="#0e0e0e" stroke-width="1.7" stroke-linecap="round" stroke-linejoin="round"/>
<path d="M450.8 98.2L450.3 101.8" fill="none" stroke="#0e0e0e" stroke-width="1.7" stroke-linecap="round" stroke-linejoin="round"/>
<path d="M454.2 98.7L456.3 96.3L462 96.3L465.3 99.3L465.7 104.3L462.7 108L457.5 108.3L454.3 106L453.7 103Z" fill="#fff" stroke="#0e0e0e" stroke-width="1.3" stroke-linecap="round" stroke-linejoin="round"/>
<path d="M456.3 96.3L456.7 100.3L454.3 106" fill="none" stroke="#0e0e0e" stroke-width="1.1" stroke-linecap="round" stroke-linejoin="round"/>
<path d="M456.7 100.3L462 101L465.3 99.3" fill="none" stroke="#0e0e0e" stroke-width="1.1" stroke-linecap="round" stroke-linejoin="round"/>
<path d="M462 101L462.7 108" fill="none" stroke="#0e0e0e" stroke-width="1.1" stroke-linecap="round" stroke-linejoin="round"/>
<path d="M458.7 102.3C459 101.9 459.9 101.4 460.3 101.7C460.8 101.9 461.4 103.3 461.3 104C461.2 104.7 460.2 105.6 459.7 105.7C459.2 105.7 458.5 104.9 458.3 104.3C458.2 103.8 458.3 102.8 458.7 102.3Z" fill="none" stroke="#0e0e0e" stroke-width="0.9" stroke-linecap="round" stroke-linejoin="round"/>
<path d="M359.7 214.9C360 214.2 361 213.3 362 212.9C363 212.6 364.8 212.6 366 212.8C367.2 213 368.5 213.9 369.1 214.4C369.7 214.9 369.9 215.4 369.6 216C369.3 216.6 368.4 217.6 367.3 218.1C366.3 218.6 364.5 219 363.3 218.9C362.2 218.8 360.9 218.3 360.3 217.6C359.7 216.9 359.4 215.7 359.7 214.9Z" fill="#fff" stroke="#0e0e0e" stroke-width="1.8" stroke-linecap="round" stroke-linejoin="round"/>
<path d="M361.3 215.7L366.7 214.9" fill="none" stroke="#0e0e0e" stroke-width="1.4" stroke-linecap="round" stroke-linejoin="round"/>
<path d="M364.7 214.9L368.7 215.7" fill="none" stroke="#0e0e0e" stroke-width="1.2" stroke-linecap="round" stroke-linejoin="round"/>
<path d="M421.2 270.5L420.7 270.7L420.1 270.8L419.6 270.8L419 270.8L418.5 270.7L417.9 270.5L417.4 270.3L416.9 270L416.5 269.7L416 269.2L415.6 268.8L415.2 268.3L414.9 267.7L414.6 267.1L414.3 266.5L414 265.8L413.8 265L413.7 264.3L413.6 263.5L413.5 262.7L413.5 261.9L413.5 261.1L413.5 260.3L413.6 259.4L413.8 258.6L414 257.8L414.2 257L414.5 256.3L414.8 255.5L415.1 254.8L415.5 254.1L415.9 253.5L416.4 252.9L416.8 252.3L417.3 251.8L417.8 251.3L418.3 250.9L418.9 250.6L419.4 250.3L420 250.1L420.5 249.9L421.1 249.8L421.6 249.8L422.2 249.8L422.7 249.9L423.3 250.1L423.8 250.3L424.3 250.6" fill="none" stroke="#0e0e0e" stroke-width="1.3" stroke-linecap="round" stroke-linejoin="round"/>
<path d="M420.3 267.5L420 267.2L419.7 267L419.4 266.7L419.2 266.4L418.9 266.1L418.7 265.7L418.5 265.4L418.3 265L418.1 264.6L418 264.1L417.9 263.7L417.8 263.2L417.7 262.7L417.6 262.2L417.6 261.7L417.5 261.2L417.5 260.7L417.6 260.2L417.6 259.6L417.7 259.1L417.8 258.6L417.9 258.1L418 257.6L418.2 257.1L418.4 256.6L418.5 256.1L418.8 255.6L419 255.2L419.2 254.8L419.5 254.4L419.8 254L420.1 253.6L420.4 253.3L420.7 253L421 252.7L421.3 252.4L421.7 252.2L422 252L422.3 251.8L422.7 251.7" fill="none" stroke="#0e0e0e" stroke-width="1.3" stroke-linecap="round" stroke-linejoin="round"/>
<path d="M420.9 269.2L418.4 266.1L414.4 266.9L416.9 270Z" fill="#fff" stroke="#0e0e0e" stroke-width="1.55" stroke-linecap="round" stroke-linejoin="round"/>
<path d="M418.4 266.1L417.5 261.3L413.5 262.1L414.4 266.9Z" fill="#fff" stroke="#0e0e0e" stroke-width="1.55" stroke-linecap="round" stroke-linejoin="round"/>
<path d="M417.5 261.3L418.3 256.1L414.3 256.9L413.5 262.1Z" fill="#fff" stroke="#0e0e0e" stroke-width="1.55" stroke-linecap="round" stroke-linejoin="round"/>
<path d="M418.3 256.1L420.6 251.7L416.6 252.5L414.3 256.9Z" fill="#fff" stroke="#0e0e0e" stroke-width="1.55" stroke-linecap="round" stroke-linejoin="round"/>
<path d="M420.6 251.7L424 249.3L420 250.1L416.6 252.5Z" fill="#fff" stroke="#0e0e0e" stroke-width="1.55" stroke-linecap="round" stroke-linejoin="round"/>
<path d="M430.1 260.5L431.3 261.8L430.8 263.4L429.2 263.5L428.8 264.3L429.3 266.3L428.4 267.5L427.1 266.5L426.5 266.9L426.3 269.3L425.2 269.8L424.4 267.9L423.8 267.9L422.9 270L421.8 269.7L421.8 267.4L421.3 267L419.8 268.3L419.1 267.2L419.8 265L419.5 264.3L417.9 264.6L417.6 263L418.9 261.4L418.9 260.6L417.5 259.7L417.8 258L419.3 257.4L419.6 256.6L418.7 254.8L419.5 253.4L421 253.9L421.4 253.2L421.3 251L422.4 250.1L423.4 251.6L424 251.3L424.6 249.1L425.8 249L426.2 251.1L426.7 251.3L427.9 249.6L428.9 250.3L428.5 252.6L429 253.2L430.5 252.4L431.1 253.7L430 255.7L430.2 256.5L431.7 256.8L431.7 258.4L430.3 259.6Z" fill="#fff" stroke="#0e0e0e" stroke-width="1.3" stroke-linecap="round" stroke-linejoin="round"/>
<ellipse cx="424.9" cy="259.5" rx="3.3" ry="6" fill="none" stroke="#0e0e0e" stroke-width="1.4" transform="rotate(10 424.9 259.5)"/>
<path d="M441.5 276.7C441.2 276.7 440.2 276.7 439.6 276.5C439 276.3 438.4 276 437.9 275.6C437.3 275.2 436.8 274.7 436.4 274.1C436 273.6 435.6 272.9 435.3 272.1C435 271.4 434.8 270.6 434.6 269.7C434.4 268.9 434.4 267.9 434.4 267C434.4 266.1 434.5 265.2 434.6 264.3C434.8 263.4 435 262.5 435.3 261.6C435.6 260.7 436 259.9 436.5 259.2C436.9 258.4 437.4 257.7 437.9 257.1C438.5 256.5 439.1 256 439.7 255.6C440.3 255.2 440.9 254.9 441.6 254.7C442.2 254.5 442.9 254.5 443.5 254.5C444.1 254.5 445 254.9 445.3 255" fill="none" stroke="#0e0e0e" stroke-width="1.4" stroke-linecap="round" stroke-linejoin="round"/>
<ellipse cx="444.3" cy="265.3" rx="7.6" ry="11.2" fill="none" stroke="#0e0e0e" stroke-width="1.35" transform="rotate(10 444.3 265.3)"/>
<ellipse cx="444.5" cy="265.6" rx="4.6" ry="6.4" fill="none" stroke="#0e0e0e" stroke-width="1.35" transform="rotate(10 444.5 265.6)"/>
<ellipse cx="444.8" cy="266" rx="2" ry="3.2" fill="none" stroke="#0e0e0e" stroke-width="1.1" transform="rotate(10 444.8 266)"/>
<path d="M463.3 281.6C463.1 281.6 462.4 281.4 462 281.2C461.6 281 461.2 280.7 460.8 280.3C460.4 280 460.1 279.6 459.8 279.1C459.5 278.7 459.2 278.2 459 277.6C458.7 277 458.6 276.4 458.4 275.8C458.3 275.2 458.2 274.5 458.1 273.8C458 273.1 458 272.4 458.1 271.7C458.1 271 458.2 270.3 458.3 269.6C458.4 268.9 458.6 268.2 458.8 267.5C459 266.8 459.3 266.2 459.6 265.5C459.8 264.9 460.2 264.3 460.5 263.8C460.9 263.2 461.3 262.7 461.7 262.3C462.1 261.8 462.5 261.4 463 261.1C463.4 260.8 463.9 260.5 464.3 260.3C464.8 260.1 465.3 260 465.7 259.9C466.2 259.9 466.9 260 467.1 260" fill="none" stroke="#0e0e0e" stroke-width="1.3" stroke-linecap="round" stroke-linejoin="round"/>
<path d="M472.1 261.2L467.1 260" fill="none" stroke="#0e0e0e" stroke-width="1.3" stroke-linecap="round" stroke-linejoin="round"/>
<path d="M468.3 282.8L463.3 281.6" fill="none" stroke="#0e0e0e" stroke-width="1.3" stroke-linecap="round" stroke-linejoin="round"/>
<ellipse cx="470.2" cy="272" rx="7" ry="11" fill="none" stroke="#0e0e0e" stroke-width="1.3" transform="rotate(10 470.2 272)"/>
<ellipse cx="470.5" cy="272.2" rx="4.6" ry="7" fill="none" stroke="#0e0e0e" stroke-width="1.3" transform="rotate(10 470.5 272.2)"/>
<ellipse cx="470.6" cy="272.4" rx="3" ry="5" fill="none" stroke="#0e0e0e" stroke-width="1.0" transform="rotate(10 470.6 272.4)"/>
<path d="M464.9 282.4C464.7 282.2 463.8 281.9 463.4 281.5C462.9 281.1 462.4 280.6 462.1 280C461.7 279.4 461.3 278.7 461.1 278C460.8 277.2 460.6 276.4 460.5 275.6C460.4 274.7 460.3 273.8 460.3 272.9C460.4 272 460.4 271 460.6 270.1C460.8 269.2 461 268.2 461.3 267.4C461.6 266.5 462 265.7 462.4 264.9C462.8 264.1 463.3 263.4 463.8 262.8C464.3 262.2 464.8 261.7 465.4 261.3C465.9 260.8 466.5 260.5 467.1 260.3C467.7 260.1 468.6 260.1 468.9 260" fill="none" stroke="#0e0e0e" stroke-width="1.1" stroke-linecap="round" stroke-linejoin="round"/>
<ellipse cx="490" cy="278.5" rx="5.9" ry="10.4" fill="none" stroke="#0e0e0e" stroke-width="2.7" transform="rotate(14 490 278.5)"/>
<path d="M508.4 294.2C508.2 294.1 507.6 294 507.2 293.8C506.8 293.6 506.5 293.3 506.1 293C505.8 292.6 505.5 292.2 505.2 291.8C504.9 291.3 504.7 290.8 504.4 290.2C504.2 289.6 504.1 289 503.9 288.4C503.8 287.7 503.7 287 503.6 286.3C503.6 285.6 503.5 284.8 503.6 284.1C503.6 283.3 503.7 282.6 503.8 281.8C503.9 281.1 504 280.3 504.2 279.6C504.4 278.9 504.6 278.2 504.9 277.5C505.1 276.8 505.4 276.2 505.7 275.6C506 275 506.4 274.4 506.7 274C507.1 273.5 507.5 273 507.9 272.7C508.3 272.3 508.7 272 509.1 271.8C509.5 271.5 509.9 271.4 510.4 271.3C510.8 271.2 511.4 271.2 511.6 271.2" fill="none" stroke="#0e0e0e" stroke-width="1.3" stroke-linecap="round" stroke-linejoin="round"/>
<path d="M519.6 273.2L511.6 271.2" fill="none" stroke="#0e0e0e" stroke-width="1.3" stroke-linecap="round" stroke-linejoin="round"/>
<path d="M516.4 296.2L508.4 294.2" fill="none" stroke="#0e0e0e" stroke-width="1.3" stroke-linecap="round" stroke-linejoin="round"/>
<ellipse cx="518" cy="284.7" rx="6.3" ry="11.6" fill="none" stroke="#0e0e0e" stroke-width="1.3" transform="rotate(8 518 284.7)"/>
<ellipse cx="518.3" cy="284.9" rx="4.4" ry="7.6" fill="none" stroke="#0e0e0e" stroke-width="1.3" transform="rotate(8 518.3 284.9)"/>
<ellipse cx="518.3" cy="285" rx="2.6" ry="4.6" fill="none" stroke="#0e0e0e" stroke-width="1.0" transform="rotate(8 518.3 285)"/>
<path d="M303.7 393.3L322 398.7" fill="none" stroke="#0e0e0e" stroke-width="1.1" stroke-linecap="round" stroke-linejoin="round"/>
<path d="M302.5 397.5L320.8 403" fill="none" stroke="#0e0e0e" stroke-width="1.1" stroke-linecap="round" stroke-linejoin="round"/>
<path d="M322 398.7C322.2 399.1 323.2 400.3 323 401C322.8 401.7 321.2 402.7 320.8 403" fill="none" stroke="#0e0e0e" stroke-width="1.1" stroke-linecap="round" stroke-linejoin="round"/>
<path d="M306.8 394.2L306 398.2" fill="none" stroke="#0e0e0e" stroke-width="1.7" stroke-linecap="round" stroke-linejoin="round"/>
<path d="M308.4 394.7L307.6 398.7" fill="none" stroke="#0e0e0e" stroke-width="1.7" stroke-linecap="round" stroke-linejoin="round"/>
<path d="M310 395.2L309.1 399.2" fill="none" stroke="#0e0e0e" stroke-width="1.7" stroke-linecap="round" stroke-linejoin="round"/>
<path d="M311.5 395.6L310.7 399.6" fill="none" stroke="#0e0e0e" stroke-width="1.7" stroke-linecap="round" stroke-linejoin="round"/>
<path d="M313.1 396.1L312.3 400.1" fill="none" stroke="#0e0e0e" stroke-width="1.7" stroke-linecap="round" stroke-linejoin="round"/>
<path d="M314.7 396.6L313.8 400.6" fill="none" stroke="#0e0e0e" stroke-width="1.7" stroke-linecap="round" stroke-linejoin="round"/>
<path d="M316.2 397.1L315.4 401.1" fill="none" stroke="#0e0e0e" stroke-width="1.7" stroke-linecap="round" stroke-linejoin="round"/>
<path d="M317.8 397.5L317 401.5" fill="none" stroke="#0e0e0e" stroke-width="1.7" stroke-linecap="round" stroke-linejoin="round"/>
<path d="M319.4 398L318.5 402" fill="none" stroke="#0e0e0e" stroke-width="1.7" stroke-linecap="round" stroke-linejoin="round"/>
<path d="M320.9 398.4L320.1 402.4" fill="none" stroke="#0e0e0e" stroke-width="1.7" stroke-linecap="round" stroke-linejoin="round"/>
<path d="M297.5 387.5L301.3 386.3L304.7 388.7L305.3 393.3L303.7 398.3L300 400.3L296 398.7L294.3 395L295 390.3Z" fill="#fff" stroke="#0e0e0e" stroke-width="1.3" stroke-linecap="round" stroke-linejoin="round"/>
<path d="M301.3 386.3L300.7 391.7L303.7 398.3" fill="none" stroke="#0e0e0e" stroke-width="1.1" stroke-linecap="round" stroke-linejoin="round"/>
<path d="M300.7 391.7L297 393L294.3 395" fill="none" stroke="#0e0e0e" stroke-width="1.1" stroke-linecap="round" stroke-linejoin="round"/>
<path d="M297 393L300 400.3" fill="none" stroke="#0e0e0e" stroke-width="1.1" stroke-linecap="round" stroke-linejoin="round"/>
<path d="M297.5 387.5L297 393" fill="none" stroke="#0e0e0e" stroke-width="1.1" stroke-linecap="round" stroke-linejoin="round"/>
<path d="M329.8 411.3C329.6 411.3 328.9 411.3 328.5 411.2C328.1 411.1 327.7 410.9 327.3 410.6C327 410.3 326.6 410 326.3 409.6C326 409.2 325.8 408.7 325.5 408.2C325.3 407.7 325.2 407.2 325.1 406.6C325 406 324.9 405.4 324.9 404.8C324.9 404.2 325 403.5 325.1 402.9C325.2 402.3 325.4 401.7 325.6 401.1C325.8 400.5 326 399.9 326.3 399.4C326.6 398.9 327 398.4 327.3 398C327.7 397.6 328.1 397.3 328.5 397C328.9 396.8 329.4 396.5 329.8 396.4C330.3 396.3 330.7 396.2 331.1 396.3C331.6 396.3 332.2 396.5 332.4 396.6" fill="none" stroke="#0e0e0e" stroke-width="1.6" stroke-linecap="round" stroke-linejoin="round"/>
<ellipse cx="331.2" cy="403.5" rx="5.2" ry="7.6" fill="none" stroke="#0e0e0e" stroke-width="1.6" transform="rotate(10 331.2 403.5)"/>
<ellipse cx="331.4" cy="403.8" rx="1.3" ry="1.9" fill="none" stroke="#0e0e0e" stroke-width="1.6" transform="rotate(10 331.4 403.8)"/>
<ellipse cx="331.3" cy="403.9" rx="1" ry="1.6" fill="#0e0e0e" stroke="#0e0e0e" stroke-width="1.2" transform="rotate(10 331.3 403.9)"/>
<path d="M342 397C343.2 396.1 346.3 396 347.5 396.5C348.7 397 348.9 398.1 349 400C349.1 401.9 348.6 405.7 348 408C347.4 410.3 346.7 412.6 345.5 414C344.3 415.4 342.3 416.2 341 416.2C339.7 416.2 338.2 414.9 337.5 414C336.8 413.1 336.6 411.9 336.8 411C337.1 410.1 338.5 410 339 408.5C339.5 407 339.5 403.9 340 402C340.5 400.1 340.8 397.9 342 397Z" fill="#fff" stroke="#0e0e0e" stroke-width="1.7" stroke-linecap="round" stroke-linejoin="round"/>
<path d="M344.5 401C345 401.2 345.9 402.7 346 404C346.1 405.3 345.5 408 345 409C344.5 410 343.5 410.3 343 410C342.5 409.7 342 408.2 342 407C342 405.8 342.6 403.5 343 402.5C343.4 401.5 344 400.8 344.5 401Z" fill="none" stroke="#0e0e0e" stroke-width="1.3" stroke-linecap="round" stroke-linejoin="round"/>
<path d="M356.8 419C356.6 418.9 356.1 418.8 355.8 418.6C355.5 418.5 355.2 418.3 355 418C354.7 417.8 354.5 417.5 354.3 417.1C354.1 416.8 353.9 416.4 353.7 416C353.5 415.6 353.4 415.1 353.3 414.6C353.2 414.1 353.1 413.6 353.1 413.1C353.1 412.6 353.1 412.1 353.1 411.5C353.1 411 353.2 410.5 353.3 409.9C353.4 409.4 353.5 408.9 353.7 408.4C353.8 407.8 354 407.3 354.2 406.9C354.4 406.4 354.7 405.9 354.9 405.5C355.2 405.1 355.4 404.7 355.7 404.4C356 404.1 356.3 403.8 356.7 403.5C357 403.3 357.3 403.1 357.6 402.9C358 402.8 358.3 402.7 358.7 402.6C359 402.6 359.5 402.6 359.6 402.6" fill="none" stroke="#0e0e0e" stroke-width="1.3" stroke-linecap="round" stroke-linejoin="round"/>
<path d="M366.4 404.4L359.6 402.6" fill="none" stroke="#0e0e0e" stroke-width="1.3" stroke-linecap="round" stroke-linejoin="round"/>
<path d="M363.6 420.8L356.8 419" fill="none" stroke="#0e0e0e" stroke-width="1.3" stroke-linecap="round" stroke-linejoin="round"/>
<ellipse cx="365" cy="412.6" rx="5" ry="8.3" fill="none" stroke="#0e0e0e" stroke-width="1.3" transform="rotate(10 365 412.6)"/>
<ellipse cx="365.3" cy="412.8" rx="2.4" ry="4.2" fill="none" stroke="#0e0e0e" stroke-width="1.3" transform="rotate(10 365.3 412.8)"/>
<g transform="translate(378.5 408) rotate(17.6)">
<path d="M12.6 -2.5 L0 -2.5 A1.1 2.5 0 0 1 0 2.5 L12.6 2.5" fill="#fff" stroke="#0e0e0e" stroke-width="1.25"/>
<ellipse cx="12.6" cy="0" rx="1.1" ry="2.5" fill="#fff" stroke="#0e0e0e" stroke-width="1.25"/>
</g>
<path d="M409.3 446.9L408.4 447.1L407.4 447.2L406.5 447.1L405.6 447L404.7 446.8L403.8 446.4L403 446L402.2 445.4L401.4 444.8L400.7 444L400.1 443.2L399.5 442.2L398.9 441.2L398.5 440.1L398 439L397.7 437.8L397.4 436.5L397.2 435.2L397.1 433.8L397 432.4L397 431L397.1 429.6L397.3 428.2L397.5 426.7L397.8 425.3L398.2 423.9L398.7 422.6L399.2 421.2L399.7 419.9L400.3 418.7L401 417.5L401.7 416.4L402.5 415.4L403.3 414.4L404.2 413.5L405.1 412.7L406 412L406.9 411.4L407.8 411L408.8 410.6L409.7 410.3L410.7 410.1L411.6 410L412.6 410.1L413.5 410.2L414.3 410.5L415.2 410.9L416 411.4" fill="none" stroke="#0e0e0e" stroke-width="1.2" stroke-linecap="round" stroke-linejoin="round"/>
<path d="M408.2 442.3L407.6 441.9L407.1 441.4L406.6 440.8L406.1 440.2L405.7 439.5L405.3 438.8L404.9 438.1L404.6 437.3L404.3 436.4L404 435.6L403.8 434.7L403.7 433.7L403.5 432.8L403.5 431.8L403.4 430.8L403.4 429.8L403.5 428.7L403.6 427.7L403.7 426.7L403.9 425.7L404.1 424.6L404.3 423.6L404.6 422.6L405 421.7L405.3 420.7L405.7 419.8L406.2 418.9L406.6 418L407.1 417.2L407.7 416.4L408.2 415.6L408.8 414.9L409.4 414.3L410 413.7L410.7 413.1L411.3 412.7L412 412.2L412.7 411.9L413.4 411.5L414 411.3" fill="none" stroke="#0e0e0e" stroke-width="1.2" stroke-linecap="round" stroke-linejoin="round"/>
<path d="M410 443.6L407.2 440.5L399.6 442.5L402.4 445.6Z" fill="#fff" stroke="#0e0e0e" stroke-width="1.45" stroke-linecap="round" stroke-linejoin="round"/>
<path d="M407.2 440.5L405.3 436L397.7 438L399.6 442.5Z" fill="#fff" stroke="#0e0e0e" stroke-width="1.45" stroke-linecap="round" stroke-linejoin="round"/>
<path d="M405.3 436L404.6 430.5L397 432.5L397.7 438Z" fill="#fff" stroke="#0e0e0e" stroke-width="1.45" stroke-linecap="round" stroke-linejoin="round"/>
<path d="M404.6 430.5L405.1 424.7L397.5 426.7L397 432.5Z" fill="#fff" stroke="#0e0e0e" stroke-width="1.45" stroke-linecap="round" stroke-linejoin="round"/>
<path d="M405.1 424.7L406.8 419.1L399.2 421.1L397.5 426.7Z" fill="#fff" stroke="#0e0e0e" stroke-width="1.45" stroke-linecap="round" stroke-linejoin="round"/>
<path d="M406.8 419.1L409.5 414.2L401.9 416.2L399.2 421.1Z" fill="#fff" stroke="#0e0e0e" stroke-width="1.45" stroke-linecap="round" stroke-linejoin="round"/>
<path d="M409.5 414.2L412.9 410.6L405.3 412.6L401.9 416.2Z" fill="#fff" stroke="#0e0e0e" stroke-width="1.45" stroke-linecap="round" stroke-linejoin="round"/>
<path d="M412.9 410.6L416.7 408.5L409.1 410.5L405.3 412.6Z" fill="#fff" stroke="#0e0e0e" stroke-width="1.45" stroke-linecap="round" stroke-linejoin="round"/>
<path d="M427.7 428.9L428.5 430.1L428.1 431.5L426.8 432L426.5 432.8L427.1 434.3L426.5 435.7L425.2 435.6L424.8 436.4L425.1 438.1L424.3 439.3L423.1 438.8L422.6 439.4L422.6 441.3L421.7 442.1L420.7 441.2L420.1 441.7L419.8 443.6L418.8 444.1L418.1 442.8L417.5 443L416.8 444.9L415.9 445.1L415.3 443.5L414.8 443.5L413.9 445.1L412.9 445L412.7 443.1L412.2 442.9L411.1 444.3L410.3 443.8L410.4 441.8L409.9 441.4L408.7 442.4L408 441.6L408.4 439.7L408 439.1L406.7 439.6L406.2 438.5L406.9 436.7L406.7 436L405.4 436.1L405.1 434.8L406 433.2L405.9 432.4L404.7 432L404.6 430.6L405.8 429.3L405.8 428.4L404.7 427.6L404.9 426.1L406.1 425.2L406.3 424.3L405.5 423.1L405.9 421.7L407.2 421.2L407.5 420.4L406.9 418.9L407.5 417.5L408.8 417.6L409.2 416.8L408.9 415.1L409.7 413.9L410.9 414.4L411.4 413.8L411.4 411.9L412.3 411.1L413.3 412L413.9 411.5L414.2 409.6L415.2 409.1L415.9 410.4L416.5 410.2L417.2 408.3L418.1 408.1L418.7 409.7L419.2 409.7L420.1 408.1L421.1 408.2L421.3 410.1L421.8 410.3L422.9 408.9L423.7 409.4L423.6 411.4L424.1 411.8L425.3 410.8L426 411.6L425.6 413.5L426 414.1L427.3 413.6L427.8 414.7L427.1 416.5L427.3 417.2L428.6 417.1L428.9 418.4L428 420L428.1 420.8L429.3 421.2L429.4 422.6L428.2 423.9L428.2 424.8L429.3 425.6L429.1 427.1L427.9 428Z" fill="#fff" stroke="#0e0e0e" stroke-width="1.2" stroke-linecap="round" stroke-linejoin="round"/>
<ellipse cx="416.8" cy="428.4" rx="8" ry="12.2" fill="none" stroke="#0e0e0e" stroke-width="1.8" transform="rotate(12 416.8 428.4)"/>
<ellipse cx="417" cy="428.7" rx="5.5" ry="9" fill="none" stroke="#0e0e0e" stroke-width="1.1" transform="rotate(12 417 428.7)"/>
<ellipse cx="417.5" cy="429.1" rx="3.2" ry="5.8" fill="none" stroke="#0e0e0e" stroke-width="1.3" transform="rotate(12 417.5 429.1)"/>
<rect x="407.1" y="410.9" width="5.6" height="3.4" rx="1.1" fill="#fff" stroke="#0e0e0e" stroke-width="1.3" transform="rotate(-38 409.9 412.6)"/>
<rect x="411.6" y="408.2" width="5.2" height="2.8" rx="1.1" fill="#fff" stroke="#0e0e0e" stroke-width="1.3" transform="rotate(-22 414.2 409.6)"/>
<path d="M439.7 443.6C439.5 443.5 439 443.4 438.7 443.2C438.4 443.1 438.1 442.9 437.9 442.6C437.6 442.4 437.4 442.1 437.2 441.7C437 441.4 436.8 441 436.6 440.6C436.4 440.2 436.3 439.7 436.2 439.2C436.1 438.7 436 438.2 436 437.7C436 437.2 436 436.7 436 436.1C436 435.6 436.1 435.1 436.2 434.5C436.3 434 436.4 433.5 436.6 433C436.7 432.4 436.9 431.9 437.1 431.5C437.3 431 437.6 430.5 437.8 430.1C438.1 429.7 438.3 429.3 438.6 429C438.9 428.7 439.2 428.4 439.6 428.1C439.9 427.9 440.2 427.7 440.5 427.5C440.9 427.4 441.2 427.3 441.6 427.2C441.9 427.2 442.4 427.2 442.5 427.2" fill="none" stroke="#0e0e0e" stroke-width="1.3" stroke-linecap="round" stroke-linejoin="round"/>
<path d="M448.9 428.7L442.5 427.2" fill="none" stroke="#0e0e0e" stroke-width="1.3" stroke-linecap="round" stroke-linejoin="round"/>
<path d="M446.1 445.1L439.7 443.6" fill="none" stroke="#0e0e0e" stroke-width="1.3" stroke-linecap="round" stroke-linejoin="round"/>
<ellipse cx="447.5" cy="436.9" rx="5" ry="8.3" fill="none" stroke="#0e0e0e" stroke-width="1.3" transform="rotate(10 447.5 436.9)"/>
<ellipse cx="447.8" cy="437.1" rx="2.2" ry="4" fill="none" stroke="#0e0e0e" stroke-width="1.3" transform="rotate(10 447.8 437.1)"/>
<path d="M460.5 451.1C460.3 451.1 459.6 451.1 459.1 451C458.7 450.9 458.3 450.6 457.9 450.3C457.5 450.1 457.2 449.7 456.9 449.2C456.6 448.8 456.3 448.3 456.1 447.7C455.9 447.2 455.7 446.6 455.6 445.9C455.5 445.3 455.5 444.6 455.5 443.9C455.5 443.3 455.6 442.5 455.7 441.9C455.8 441.2 456 440.5 456.2 439.9C456.4 439.2 456.7 438.6 457 438C457.3 437.5 457.7 436.9 458.1 436.5C458.5 436 458.9 435.6 459.3 435.3C459.8 435 460.2 434.8 460.7 434.7C461.1 434.5 461.6 434.5 462.1 434.5C462.5 434.5 463.1 434.8 463.4 434.8" fill="none" stroke="#0e0e0e" stroke-width="1.4" stroke-linecap="round" stroke-linejoin="round"/>
<ellipse cx="462" cy="442.5" rx="5.4" ry="8.4" fill="none" stroke="#0e0e0e" stroke-width="1.35" transform="rotate(10 462 442.5)"/>
<ellipse cx="462.2" cy="442.8" rx="1.9" ry="3" fill="none" stroke="#0e0e0e" stroke-width="1.35" transform="rotate(10 462.2 442.8)"/>
<path d="M486.7 442L492 441L495.8 443.7L497 448.7L495.3 454.7L491.3 457.3L486.3 456L484 451.3L484.3 446Z" fill="#fff" stroke="#0e0e0e" stroke-width="1.4" stroke-linecap="round" stroke-linejoin="round"/>
<path d="M486.7 442L487.3 447.3L484.3 446" fill="none" stroke="#0e0e0e" stroke-width="1.2" stroke-linecap="round" stroke-linejoin="round"/>
<path d="M487.3 447.3L486.3 456" fill="none" stroke="#0e0e0e" stroke-width="1.2" stroke-linecap="round" stroke-linejoin="round"/>
<path d="M487.3 447.3L493 445.3L495.8 443.7" fill="none" stroke="#0e0e0e" stroke-width="1.2" stroke-linecap="round" stroke-linejoin="round"/>
<ellipse cx="491.8" cy="450.5" rx="3.3" ry="4.6" fill="none" stroke="#0e0e0e" stroke-width="1.3" transform="rotate(10 491.8 450.5)"/>
<path d="M490 447.5L494.2 452" fill="none" stroke="#0e0e0e" stroke-width="1.0" stroke-linecap="round" stroke-linejoin="round"/>
<path d="M494.3 446.7L490.3 453" fill="none" stroke="#0e0e0e" stroke-width="1.0" stroke-linecap="round" stroke-linejoin="round"/>
<path d="M79.5 324.5C79.8 323.2 80.4 319.4 81.5 317C82.6 314.6 84.4 311.9 86 310C87.6 308.1 89.2 306.6 91 305.5C92.8 304.4 95.6 303.8 96.5 303.5" fill="none" stroke="#0e0e0e" stroke-width="1.3" stroke-linecap="round" stroke-linejoin="round"/>
<path d="M82.5 325C82.9 323.8 83.8 319.8 85 317.5C86.2 315.2 87.9 312.8 89.5 311C91.1 309.2 92.9 307.5 94.5 306.5C96.1 305.5 98.2 305.2 99 305" fill="none" stroke="#0e0e0e" stroke-width="1.3" stroke-linecap="round" stroke-linejoin="round"/>
<path d="M85.5 324.5C85.9 323.4 86.9 320.1 88 318C89.1 315.9 90.5 313.7 92 312C93.5 310.3 95.3 308.9 97 308C98.7 307.1 101.2 306.8 102 306.5" fill="none" stroke="#0e0e0e" stroke-width="1.3" stroke-linecap="round" stroke-linejoin="round"/>
<path d="M79.5 324.5L82.5 325.5L85.5 324.5" fill="none" stroke="#0e0e0e" stroke-width="1.4" stroke-linecap="round" stroke-linejoin="round"/>
<path d="M96.5 303.5C97.6 303.8 100.8 304.2 103 305.5C105.2 306.8 108.2 309.9 110 311C111.8 312.1 113.3 311.8 114 312" fill="none" stroke="#0e0e0e" stroke-width="1.3" stroke-linecap="round" stroke-linejoin="round"/>
<path d="M85.5 325L92 327.5L99 330.5" fill="none" stroke="#0e0e0e" stroke-width="1.3" stroke-linecap="round" stroke-linejoin="round"/>
<path d="M99 332.5C99.2 331.6 99.2 329.1 100 327C100.8 324.9 102.3 322.2 104 320C105.7 317.8 108.3 315.3 110 314C111.7 312.7 112.3 312.3 114 312C115.7 311.7 118.2 311.5 120 312C121.8 312.5 123.3 313.8 124.5 315C125.7 316.2 126.5 317.6 127 319C127.5 320.4 127.4 322.8 127.5 323.5" fill="none" stroke="#0e0e0e" stroke-width="1.3" stroke-linecap="round" stroke-linejoin="round"/>
<path d="M102 333C102.2 332.1 102.2 329.6 103 327.5C103.8 325.4 105.5 322.6 107 320.5C108.5 318.4 110.8 316.2 112 315C113.2 313.8 114.1 313.8 114.5 313.5" fill="none" stroke="#0e0e0e" stroke-width="1.3" stroke-linecap="round" stroke-linejoin="round"/>
<path d="M105 332.5C105.2 331.6 105.7 328.8 106.5 327C107.3 325.2 108.8 323 110 321.5C111.2 320 112.7 318.7 114 318C115.3 317.3 116.8 317.2 118 317.5C119.2 317.8 120.2 318.4 121 319.5C121.8 320.6 122.2 323.2 122.5 324" fill="none" stroke="#0e0e0e" stroke-width="1.3" stroke-linecap="round" stroke-linejoin="round"/>
<path d="M99 332.5L102 333.5L105 332.5" fill="none" stroke="#0e0e0e" stroke-width="1.4" stroke-linecap="round" stroke-linejoin="round"/>
<path d="M127.5 323.5C127.2 323.8 126.3 324.8 125.5 325C124.7 325.2 123 324.6 122.5 324.5" fill="none" stroke="#0e0e0e" stroke-width="1.4" stroke-linecap="round" stroke-linejoin="round"/>
<path d="M113 320C113.4 319.8 114.5 318.5 115.5 318.5C116.5 318.5 118.8 319.2 119 320C119.2 320.8 117.3 322.5 117 323" fill="none" stroke="#0e0e0e" stroke-width="1.3" stroke-linecap="round" stroke-linejoin="round"/>
<path d="M89.5 364C89.7 365.2 89.8 368.9 90.5 371C91.2 373.1 92.1 375.2 93.5 376.5C94.9 377.8 97.1 378.8 99 379C100.9 379.2 103.2 378.6 105 377.5C106.8 376.4 108.5 374.6 110 372.5C111.5 370.4 113 367.6 114 365C115 362.4 115.7 358.3 116 357" fill="none" stroke="#0e0e0e" stroke-width="1.4" stroke-linecap="round" stroke-linejoin="round"/>
<path d="M92 364.5C92.2 365.6 92.8 369.2 93.5 371C94.2 372.8 95.3 374.2 96.5 375C97.7 375.8 99 376.2 100.5 376C102 375.8 104 374.8 105.5 373.5C107 372.2 108.3 370.2 109.5 368C110.7 365.8 112 361.3 112.5 360" fill="none" stroke="#0e0e0e" stroke-width="1.3" stroke-linecap="round" stroke-linejoin="round"/>
<path d="M95 364C95.2 364.8 95.4 367.7 96 369C96.6 370.3 97.6 371.8 98.5 372C99.4 372.2 100.5 371.7 101.5 370.5C102.5 369.3 103.8 367.1 104.5 365C105.2 362.9 105.8 359.2 106 358" fill="none" stroke="#0e0e0e" stroke-width="1.3" stroke-linecap="round" stroke-linejoin="round"/>
<path d="M95 350C95.7 349.8 97.3 348.1 99 348.5C100.7 348.9 102.2 351.3 105 352.5C107.8 353.7 114.2 355 116 355.5" fill="none" stroke="#0e0e0e" stroke-width="1.5" stroke-linecap="round" stroke-linejoin="round"/>
<path d="M116 355.5L116 358.5" fill="none" stroke="#0e0e0e" stroke-width="1.3" stroke-linecap="round" stroke-linejoin="round"/>
<path d="M96 351.2C97.5 351.8 101.8 353.4 105 354.5C108.2 355.6 113.8 357 115.5 357.5" fill="none" stroke="#0e0e0e" stroke-width="1.3" stroke-linecap="round" stroke-linejoin="round"/>
<path d="M95 350C94.4 351.3 92.3 356 91.5 358C90.7 360 90.2 361.3 90 362" fill="none" stroke="#0e0e0e" stroke-width="1.3" stroke-linecap="round" stroke-linejoin="round"/>
<path d="M100.5 353.5C100.3 354.6 100.1 358.2 99.5 360C98.9 361.8 97.4 363.3 97 364" fill="none" stroke="#0e0e0e" stroke-width="1.3" stroke-linecap="round" stroke-linejoin="round"/>
<path d="M106 355C105.8 356.3 105.8 360.5 105 363C104.2 365.5 102.1 368.8 101.5 370" fill="none" stroke="#0e0e0e" stroke-width="1.3" stroke-linecap="round" stroke-linejoin="round"/>
<path d="M70.5 358.5C70.6 359.6 70.5 362.9 71 365C71.5 367.1 72.3 369.5 73.5 371C74.7 372.5 76.8 373.7 78 374C79.2 374.3 80.1 373.2 80.5 373" fill="none" stroke="#0e0e0e" stroke-width="1.3" stroke-linecap="round" stroke-linejoin="round"/>
<path d="M72.5 359.5C72.6 360.4 72.6 363.2 73 365C73.4 366.8 74.1 368.8 75 370C75.9 371.2 77.9 372.1 78.5 372.5" fill="none" stroke="#0e0e0e" stroke-width="1.3" stroke-linecap="round" stroke-linejoin="round"/>
<path d="M75 360C75.1 360.8 75.2 363.5 75.5 365C75.8 366.5 76.2 367.9 77 369C77.8 370.1 79.5 371.1 80 371.5" fill="none" stroke="#0e0e0e" stroke-width="1.3" stroke-linecap="round" stroke-linejoin="round"/>
<path d="M70.5 358.5C71.2 358.2 73.8 356.6 75 356.5C76.2 356.4 76.3 357.2 78 358C79.7 358.8 83 360.6 85 361.5C87 362.4 88.5 363 90 363.5C91.5 364 93.3 364.3 94 364.5" fill="none" stroke="#0e0e0e" stroke-width="1.6" stroke-linecap="round" stroke-linejoin="round"/>
<path d="M75 360C76.7 360.6 82.6 362.8 85 363.5C87.4 364.2 88.8 364.3 89.5 364.5" fill="none" stroke="#0e0e0e" stroke-width="1.3" stroke-linecap="round" stroke-linejoin="round"/>
<path d="M80 372L85 373.5L89.5 375" fill="none" stroke="#0e0e0e" stroke-width="1.3" stroke-linecap="round" stroke-linejoin="round"/>
<path d="M217.5 365C217.8 363.8 218.4 360.2 219.5 358C220.6 355.8 222.4 353.2 224 351.5C225.6 349.8 228.2 348.2 229 347.5" fill="none" stroke="#0e0e0e" stroke-width="1.3" stroke-linecap="round" stroke-linejoin="round"/>
<path d="M229 347.5C229.7 347.6 230.7 347.3 233 348C235.3 348.7 240.1 350.4 243 351.5C245.9 352.6 249.2 354 250.5 354.5" fill="none" stroke="#0e0e0e" stroke-width="1.3" stroke-linecap="round" stroke-linejoin="round"/>
<path d="M217.5 365L225 368L234 371L238.5 372.5" fill="none" stroke="#0e0e0e" stroke-width="1.3" stroke-linecap="round" stroke-linejoin="round"/>
<path d="M238.5 372.5C238.8 371.7 239.1 369.5 240 367.5C240.9 365.5 242.7 362.4 244 360.5C245.3 358.6 246.9 357 248 356C249.1 355 249.4 354.5 250.5 354.5C251.6 354.5 253.3 355.2 254.5 356C255.7 356.8 256.8 358.2 257.5 359.5C258.2 360.8 258.8 362.3 259 363.5C259.2 364.7 258.6 366 258.5 366.5" fill="none" stroke="#0e0e0e" stroke-width="1.3" stroke-linecap="round" stroke-linejoin="round"/>
<path d="M241 372C241.3 371.2 242.2 368.8 243 367C243.8 365.2 244.9 363 246 361.5C247.1 360 248.3 358.6 249.5 358C250.7 357.4 251.9 357.5 253 358C254.1 358.5 255.3 359.8 256 361C256.7 362.2 256.9 364.1 257 365C257.1 365.9 256.6 366.2 256.5 366.5" fill="none" stroke="#0e0e0e" stroke-width="1.3" stroke-linecap="round" stroke-linejoin="round"/>
<path d="M238.5 372.5L241 372" fill="none" stroke="#0e0e0e" stroke-width="1.5" stroke-linecap="round" stroke-linejoin="round"/>
<path d="M258.5 366.5L256.5 366.5" fill="none" stroke="#0e0e0e" stroke-width="1.4" stroke-linecap="round" stroke-linejoin="round"/>
<path d="M248 362.5C247.9 361.9 249.2 360.4 250 360C250.8 359.6 252.2 359.5 253 360C253.8 360.5 254.8 362.2 255 363C255.2 363.8 254.8 364.9 254 365C253.2 365.1 251.5 363.9 250.5 363.5C249.5 363.1 248.1 363.1 248 362.5Z" fill="none" stroke="#0e0e0e" stroke-width="1.3" stroke-linecap="round" stroke-linejoin="round"/>
<path d="M211.5 400C212.2 400.1 214.3 399.9 216 400.5C217.7 401.1 219.7 402.8 221.5 403.5C223.3 404.2 225.3 404.5 227 405C228.7 405.5 230.8 406.2 231.5 406.5" fill="none" stroke="#0e0e0e" stroke-width="1.6" stroke-linecap="round" stroke-linejoin="round"/>
<path d="M212.5 402L220 404.5L230 407.5" fill="none" stroke="#0e0e0e" stroke-width="1.3" stroke-linecap="round" stroke-linejoin="round"/>
<path d="M211.5 400C211.5 400.8 211.2 403.4 211.5 405C211.8 406.6 212.4 408.5 213 409.5C213.6 410.5 214.7 410.8 215 411" fill="none" stroke="#0e0e0e" stroke-width="1.2" stroke-linecap="round" stroke-linejoin="round"/>
<path d="M215 411L222 413.5L230 416" fill="none" stroke="#0e0e0e" stroke-width="1.3" stroke-linecap="round" stroke-linejoin="round"/>
<path d="M230 407C230 408 229.7 411.4 230 413C230.3 414.6 231 415.8 232 416.5C233 417.2 234.5 417.7 236 417.5C237.5 417.3 239.3 416.7 241 415.5C242.7 414.3 244.6 412.4 246 410.5C247.4 408.6 248.7 406.2 249.5 404C250.3 401.8 250.8 398.6 251 397.5" fill="none" stroke="#0e0e0e" stroke-width="1.4" stroke-linecap="round" stroke-linejoin="round"/>
<path d="M232.5 406.5C232.6 407.2 232.6 409.8 233 411C233.4 412.2 234.1 413.5 235 414C235.9 414.5 237.2 414.5 238.5 414C239.8 413.5 241.2 412.3 242.5 411C243.8 409.7 245.1 407.8 246 406C246.9 404.2 247.7 401 248 400" fill="none" stroke="#0e0e0e" stroke-width="1.3" stroke-linecap="round" stroke-linejoin="round"/>
<path d="M230 391.5C230.5 391.2 231.3 389.8 233 390C234.7 390.2 237 391.9 240 393C243 394.1 249.2 395.9 251 396.5" fill="none" stroke="#0e0e0e" stroke-width="1.5" stroke-linecap="round" stroke-linejoin="round"/>
<path d="M231 392.8L240 395.3L250 398.7" fill="none" stroke="#0e0e0e" stroke-width="1.3" stroke-linecap="round" stroke-linejoin="round"/>
<path d="M251 396.5L251 398.2" fill="none" stroke="#0e0e0e" stroke-width="1.2" stroke-linecap="round" stroke-linejoin="round"/>
<path d="M230 391.5C229.6 392.4 228.5 395.2 227.5 397C226.5 398.8 224.6 401.6 224 402.5" fill="none" stroke="#0e0e0e" stroke-width="1.3" stroke-linecap="round" stroke-linejoin="round"/>
<path d="M236.5 394.5C236.3 395.4 236.2 398.2 235.5 400C234.8 401.8 233 404.6 232.5 405.5" fill="none" stroke="#0e0e0e" stroke-width="1.3" stroke-linecap="round" stroke-linejoin="round"/>
<path d="M241.5 396.5C241.3 397.4 241.2 400.1 240.5 402C239.8 403.9 238 406.6 237 408C236 409.4 234.9 410.1 234.5 410.5" fill="none" stroke="#0e0e0e" stroke-width="1.3" stroke-linecap="round" stroke-linejoin="round"/>
<path d="M65 481.7C64.3 483.6 61.5 489.4 60.8 493.3C60.1 497.2 60.6 501.8 60.8 505C61.1 508.2 60.8 511 62.5 512.5C64.2 514 69.4 513.9 70.8 514.2" fill="none" stroke="#1c1c1c" stroke-width="1.1" stroke-linecap="butt" stroke-linejoin="round" stroke-dasharray="1.1 2.0"/>
<path d="M65 481.7C66 481.4 69 480.6 70.8 480C72.6 479.4 73.8 478.1 75.8 478.3C77.9 478.6 81 480.8 83.3 481.7C85.7 482.5 87.8 484.4 90 483.3C92.2 482.2 95 477.8 96.7 475C98.3 472.2 98.1 468.3 100 466.7C101.9 465 105.3 464.7 108.3 465C111.4 465.3 116.4 467.1 118.3 468.3C120.3 469.6 119.7 471.8 120 472.5" fill="none" stroke="#1c1c1c" stroke-width="1.1" stroke-linecap="butt" stroke-linejoin="round" stroke-dasharray="1.1 2.0"/>
<path d="M118.3 471.7C118.2 473.1 117.8 477.2 117.5 480C117.2 482.8 117.4 485.6 116.7 488.3C116 491.1 115 494.7 113.3 496.7C111.7 498.6 109.2 498.8 106.7 500C104.2 501.2 100.3 502.6 98.3 504.2C96.4 505.7 97.2 508.2 95 509.2C92.8 510.1 88.2 509.7 85 510C81.8 510.3 77.4 510.7 75.8 510.8" fill="none" stroke="#1c1c1c" stroke-width="1.1" stroke-linecap="butt" stroke-linejoin="round" stroke-dasharray="1.1 2.0"/>
<path d="M81.7 481.7C81.8 483.3 81.8 488.9 82.5 491.7C83.2 494.4 84 496.9 85.8 498.3C87.6 499.7 91 500.6 93.3 500C95.7 499.4 98.1 497.2 100 495C101.9 492.8 103.6 489.7 105 486.7C106.4 483.6 108.1 479.7 108.3 476.7C108.6 473.6 106.9 469.7 106.7 468.3" fill="none" stroke="#1c1c1c" stroke-width="1.1" stroke-linecap="butt" stroke-linejoin="round" stroke-dasharray="1.1 2.0"/>
<path d="M85 483.3C85.1 484.7 85 489.6 85.8 491.7C86.7 493.8 88.3 495.4 90 495.8C91.7 496.2 94 495.4 95.8 494.2C97.6 492.9 99.3 490.7 100.8 488.3C102.4 486 103.2 482.8 105 480C106.8 477.2 110.6 473.1 111.7 471.7" fill="none" stroke="#1c1c1c" stroke-width="1.1" stroke-linecap="butt" stroke-linejoin="round" stroke-dasharray="1.1 2.0"/>
<path d="M74.2 483.3L74.2 506.7" fill="none" stroke="#1c1c1c" stroke-width="1.1" stroke-linecap="butt" stroke-linejoin="round" stroke-dasharray="1.1 2.0"/>
<path d="M75.8 478.3C75.8 479.2 74.9 482.8 75.8 483.3C76.8 483.9 80.7 481.9 81.7 481.7" fill="none" stroke="#1c1c1c" stroke-width="1.1" stroke-linecap="butt" stroke-linejoin="round" stroke-dasharray="1.1 2.0"/>
<path d="M61.7 493.3L68.3 493.7" fill="none" stroke="#1c1c1c" stroke-width="1.1" stroke-linecap="butt" stroke-linejoin="round" stroke-dasharray="1.1 2.0"/>
<path d="M106.7 470.8L118.3 471.7" fill="none" stroke="#1c1c1c" stroke-width="1.1" stroke-linecap="butt" stroke-linejoin="round" stroke-dasharray="1.1 2.0"/>
<path d="M88.3 501.7L98.3 498.3" fill="none" stroke="#1c1c1c" stroke-width="1.1" stroke-linecap="butt" stroke-linejoin="round" stroke-dasharray="1.1 2.0"/>
<path d="M87.5 485.8C87.7 486.9 87.7 491.2 88.7 492.5C89.6 493.8 91.5 494.1 93 493.7C94.5 493.2 96 491.9 97.5 490C99 488.1 100.6 485.3 102 482.5C103.4 479.7 105.2 474.9 105.8 473.3" fill="none" stroke="#1c1c1c" stroke-width="1.1" stroke-linecap="butt" stroke-linejoin="round" stroke-dasharray="1.1 2.0"/>
<path d="M105.8 467.5C107.1 467.8 111.5 468.3 113.3 469.2C115.2 470 116.4 471.9 117 472.5" fill="none" stroke="#1c1c1c" stroke-width="1.1" stroke-linecap="butt" stroke-linejoin="round" stroke-dasharray="1.1 2.0"/>
<path d="M70.8 481.7L71.7 485.8" fill="none" stroke="#1c1c1c" stroke-width="1.1" stroke-linecap="butt" stroke-linejoin="round" stroke-dasharray="1.1 2.0"/>
<path d="M200.8 522.5C200.3 524.6 198.2 531 197.5 535C196.8 539 196.5 543.6 196.7 546.7C196.8 549.7 196.5 551.7 198.3 553.3C200.1 555 206 556.1 207.5 556.7" fill="none" stroke="#1c1c1c" stroke-width="1.1" stroke-linecap="butt" stroke-linejoin="round" stroke-dasharray="1.1 2.0"/>
<path d="M200.8 522.5C202.4 521.9 206.8 519.3 210 519.2C213.2 519 216.9 520.7 220 521.7C223.1 522.6 226.2 526.1 228.3 525C230.4 523.9 231.1 517.9 232.5 515C233.9 512.1 234.9 509.2 236.7 507.5C238.5 505.8 240.8 505 243.3 505C245.8 505 249.3 506.4 251.7 507.5C254 508.6 256.5 511 257.5 511.7" fill="none" stroke="#1c1c1c" stroke-width="1.1" stroke-linecap="butt" stroke-linejoin="round" stroke-dasharray="1.1 2.0"/>
<path d="M257.5 511.7C257.4 513.6 257.2 519.7 256.7 523.3C256.1 526.9 255.3 530.7 254.2 533.3C253.1 536 252.1 537.5 250 539.2C247.9 540.8 244.4 541.9 241.7 543.3C238.9 544.7 236.4 546 233.3 547.5C230.3 549 226.7 551.4 223.3 552.5C220 553.6 216 553.5 213.3 554.2C210.7 554.9 208.5 556.2 207.5 556.7" fill="none" stroke="#1c1c1c" stroke-width="1.1" stroke-linecap="butt" stroke-linejoin="round" stroke-dasharray="1.1 2.0"/>
<path d="M220 521.7C220.1 523.3 220 528.9 220.8 531.7C221.7 534.4 223.2 536.9 225 538.3C226.8 539.7 229.4 540.6 231.7 540C233.9 539.4 236.2 537.5 238.3 535C240.4 532.5 242.5 528.6 244.2 525C245.8 521.4 247.9 516.4 248.3 513.3C248.7 510.3 246.9 507.8 246.7 506.7" fill="none" stroke="#1c1c1c" stroke-width="1.1" stroke-linecap="butt" stroke-linejoin="round" stroke-dasharray="1.1 2.0"/>
<path d="M223.3 523.3C223.5 524.6 223.3 528.8 224.2 530.8C225 532.9 226.7 535.1 228.3 535.8C230 536.5 232.2 536.2 234.2 535C236.1 533.8 238.2 531.1 240 528.3C241.8 525.6 243.3 521.5 245 518.3C246.7 515.1 249.2 510.7 250 509.2" fill="none" stroke="#1c1c1c" stroke-width="1.1" stroke-linecap="butt" stroke-linejoin="round" stroke-dasharray="1.1 2.0"/>
<path d="M213.3 530L210 548.3" fill="none" stroke="#1c1c1c" stroke-width="1.1" stroke-linecap="butt" stroke-linejoin="round" stroke-dasharray="1.1 2.0"/>
<path d="M198.3 533.3L205 535.8" fill="none" stroke="#1c1c1c" stroke-width="1.1" stroke-linecap="butt" stroke-linejoin="round" stroke-dasharray="1.1 2.0"/>
<path d="M210 519.2C210.1 520.3 209.2 524.4 210.8 525.8C212.5 527.2 218.5 527.2 220 527.5" fill="none" stroke="#1c1c1c" stroke-width="1.1" stroke-linecap="butt" stroke-linejoin="round" stroke-dasharray="1.1 2.0"/>
<path d="M246.7 510.8L255.8 512.5" fill="none" stroke="#1c1c1c" stroke-width="1.1" stroke-linecap="butt" stroke-linejoin="round" stroke-dasharray="1.1 2.0"/>
<path d="M226.3 524.2C226.5 525.3 226.6 529.4 227.5 530.8C228.4 532.3 230.1 533.1 231.7 533C233.2 532.9 235.1 531.8 236.7 530C238.3 528.2 239.9 525.3 241.3 522.5C242.8 519.7 244.7 514.9 245.3 513.3" fill="none" stroke="#1c1c1c" stroke-width="1.1" stroke-linecap="butt" stroke-linejoin="round" stroke-dasharray="1.1 2.0"/>
<path d="M205 521.7C205.3 522.8 205.3 526.9 206.7 528.3C208.1 529.7 212.2 529.7 213.3 530" fill="none" stroke="#1c1c1c" stroke-width="1.1" stroke-linecap="butt" stroke-linejoin="round" stroke-dasharray="1.1 2.0"/>
<path d="M108.7 130L101 141" fill="none" stroke="#0e0e0e" stroke-width="1.15" stroke-linecap="round" stroke-linejoin="round"/>
<path d="M159.5 142.5L185 140" fill="none" stroke="#0e0e0e" stroke-width="1.15" stroke-linecap="round" stroke-linejoin="round"/>
<path d="M281.5 150L265.5 190" fill="none" stroke="#0e0e0e" stroke-width="1.15" stroke-linecap="round" stroke-linejoin="round"/>
<path d="M359 198L361.7 211.7" fill="none" stroke="#0e0e0e" stroke-width="1.15" stroke-linecap="round" stroke-linejoin="round"/>
<path d="M393.3 200L416.7 248.3" fill="none" stroke="#0e0e0e" stroke-width="1.15" stroke-linecap="round" stroke-linejoin="round"/>
<path d="M305.8 41.7L292.5 46.2" fill="none" stroke="#0e0e0e" stroke-width="1.15" stroke-linecap="round" stroke-linejoin="round"/>
<path d="M334 46.3L315 53.7" fill="none" stroke="#0e0e0e" stroke-width="1.15" stroke-linecap="round" stroke-linejoin="round"/>
<path d="M351.7 48.3L330.3 69.2" fill="none" stroke="#0e0e0e" stroke-width="1.15" stroke-linecap="round" stroke-linejoin="round"/>
<path d="M402.5 68.3L400.8 76.7" fill="none" stroke="#0e0e0e" stroke-width="1.15" stroke-linecap="round" stroke-linejoin="round"/>
<path d="M439.7 69.7L430.5 83.7" fill="none" stroke="#0e0e0e" stroke-width="1.15" stroke-linecap="round" stroke-linejoin="round"/>
<path d="M463 80L453.3 95.8" fill="none" stroke="#0e0e0e" stroke-width="1.15" stroke-linecap="round" stroke-linejoin="round"/>
<path d="M455.8 242.5L449 254" fill="none" stroke="#0e0e0e" stroke-width="1.15" stroke-linecap="round" stroke-linejoin="round"/>
<path d="M478.3 246.7L472 259" fill="none" stroke="#0e0e0e" stroke-width="1.15" stroke-linecap="round" stroke-linejoin="round"/>
<path d="M503.7 254L496.3 267.5" fill="none" stroke="#0e0e0e" stroke-width="1.15" stroke-linecap="round" stroke-linejoin="round"/>
<path d="M528.7 258.7L521.7 272" fill="none" stroke="#0e0e0e" stroke-width="1.15" stroke-linecap="round" stroke-linejoin="round"/>
<path d="M141.7 355.8L125.8 328.3" fill="none" stroke="#0e0e0e" stroke-width="1.15" stroke-linecap="round" stroke-linejoin="round"/>
<path d="M141.7 355.8L117.5 361.3" fill="none" stroke="#0e0e0e" stroke-width="1.15" stroke-linecap="round" stroke-linejoin="round"/>
<path d="M198 379.2L218 368.7" fill="none" stroke="#0e0e0e" stroke-width="1.15" stroke-linecap="round" stroke-linejoin="round"/>
<path d="M198 379.2L212.5 399.2" fill="none" stroke="#0e0e0e" stroke-width="1.15" stroke-linecap="round" stroke-linejoin="round"/>
<path d="M282.5 419.2L302.5 402.5" fill="none" stroke="#0e0e0e" stroke-width="1.15" stroke-linecap="round" stroke-linejoin="round"/>
<path d="M306.3 425L324.2 409.7" fill="none" stroke="#0e0e0e" stroke-width="1.15" stroke-linecap="round" stroke-linejoin="round"/>
<path d="M324.2 429.2L335.8 415" fill="none" stroke="#0e0e0e" stroke-width="1.15" stroke-linecap="round" stroke-linejoin="round"/>
<path d="M343.3 435.8L355.8 420" fill="none" stroke="#0e0e0e" stroke-width="1.15" stroke-linecap="round" stroke-linejoin="round"/>
<path d="M363.3 440L381.7 414.2" fill="none" stroke="#0e0e0e" stroke-width="1.15" stroke-linecap="round" stroke-linejoin="round"/>
<path d="M409.7 454.2L435 444.7" fill="none" stroke="#0e0e0e" stroke-width="1.15" stroke-linecap="round" stroke-linejoin="round"/>
<path d="M473 425.8L466.3 433" fill="none" stroke="#0e0e0e" stroke-width="1.15" stroke-linecap="round" stroke-linejoin="round"/>
<path d="M510.3 436.7L497.5 447" fill="none" stroke="#0e0e0e" stroke-width="1.15" stroke-linecap="round" stroke-linejoin="round"/>
<path d="M384.7 455.8L389.2 452.5" fill="none" stroke="#0e0e0e" stroke-width="1.15" stroke-linecap="round" stroke-linejoin="round"/>
<path d="M183.6 131.3L184.8 129.2L187 128.4L401.8 189.3L402.8 196" fill="none" stroke="#0e0e0e" stroke-width="1.15" stroke-linecap="round" stroke-linejoin="round"/>
<path d="M378.3 55L392.5 46.3L413 55.8L413.3 60" fill="none" stroke="#0e0e0e" stroke-width="1.15" stroke-linecap="round" stroke-linejoin="round"/>
<path d="M399.2 442.5L389.2 452.5L405.8 462.5L413.3 461.3" fill="none" stroke="#0e0e0e" stroke-width="1.15" stroke-linecap="round" stroke-linejoin="round"/>
<path d="M366.3 246.3L375.7 248.4" fill="none" stroke="#0e0e0e" stroke-width="1.15" stroke-linecap="round" stroke-linejoin="round"/>
<path d="M379.7 250L393.7 253.7" fill="none" stroke="#0e0e0e" stroke-width="1.15" stroke-linecap="round" stroke-linejoin="round"/>
<path d="M398.3 255.1L408.3 257.3" fill="none" stroke="#0e0e0e" stroke-width="1.15" stroke-linecap="round" stroke-linejoin="round"/>
<circle cx="467.5" cy="362.5" r="0.7" fill="#0e0e0e"/>
<circle cx="357.5" cy="375.3" r="0.7" fill="#0e0e0e"/>
<circle cx="487.5" cy="534" r="0.7" fill="#0e0e0e"/>
<circle cx="501.5" cy="547.5" r="0.7" fill="#0e0e0e"/>
<circle cx="322.3" cy="285" r="0.7" fill="#0e0e0e"/>
<text x="110.7" y="128.3" font-size="9.8" text-anchor="middle" font-family="Liberation Sans, sans-serif" font-weight="normal" fill="#0e0e0e" stroke="#0e0e0e" stroke-width="0.42">1</text>
<text x="191.7" y="142.8" font-size="9.8" text-anchor="middle" font-family="Liberation Sans, sans-serif" font-weight="normal" fill="#0e0e0e" stroke="#0e0e0e" stroke-width="0.42">2</text>
<text x="283.4" y="148.7" font-size="9.8" text-anchor="middle" font-family="Liberation Sans, sans-serif" font-weight="normal" fill="#0e0e0e" stroke="#0e0e0e" stroke-width="0.42">5</text>
<text x="357.5" y="195" font-size="9.8" text-anchor="middle" font-family="Liberation Sans, sans-serif" font-weight="normal" fill="#0e0e0e" stroke="#0e0e0e" stroke-width="0.42">3</text>
<text x="310.3" y="43.1" font-size="9.8" text-anchor="middle" font-family="Liberation Sans, sans-serif" font-weight="normal" fill="#0e0e0e" stroke="#0e0e0e" stroke-width="0.42">6</text>
<text x="338.3" y="46.4" font-size="9.8" text-anchor="middle" font-family="Liberation Sans, sans-serif" font-weight="normal" fill="#0e0e0e" stroke="#0e0e0e" stroke-width="0.42">7</text>
<text x="355.8" y="48.6" font-size="9.8" text-anchor="middle" font-family="Liberation Sans, sans-serif" font-weight="normal" fill="#0e0e0e" stroke="#0e0e0e" stroke-width="0.42">8</text>
<text x="398.3" y="44.1" font-size="9.8" text-anchor="middle" font-family="Liberation Sans, sans-serif" font-weight="normal" fill="#0e0e0e" stroke="#0e0e0e" stroke-width="0.42">10</text>
<text x="403.3" y="64.1" font-size="9.8" text-anchor="middle" font-family="Liberation Sans, sans-serif" font-weight="normal" fill="#0e0e0e" stroke="#0e0e0e" stroke-width="0.42">9</text>
<text x="443.3" y="67.5" font-size="9.8" text-anchor="middle" font-family="Liberation Sans, sans-serif" font-weight="normal" fill="#0e0e0e" stroke="#0e0e0e" stroke-width="0.42">11</text>
<text x="467" y="78" font-size="9.8" text-anchor="middle" font-family="Liberation Sans, sans-serif" font-weight="normal" fill="#0e0e0e" stroke="#0e0e0e" stroke-width="0.42">12</text>
<text x="455.8" y="240" font-size="9.8" text-anchor="middle" font-family="Liberation Sans, sans-serif" font-weight="normal" fill="#0e0e0e" stroke="#0e0e0e" stroke-width="0.42">13</text>
<text x="481" y="244.2" font-size="9.8" text-anchor="middle" font-family="Liberation Sans, sans-serif" font-weight="normal" fill="#0e0e0e" stroke="#0e0e0e" stroke-width="0.42">14</text>
<text x="505" y="252" font-size="9.8" text-anchor="middle" font-family="Liberation Sans, sans-serif" font-weight="normal" fill="#0e0e0e" stroke="#0e0e0e" stroke-width="0.42">24</text>
<text x="532.8" y="255.8" font-size="9.8" text-anchor="middle" font-family="Liberation Sans, sans-serif" font-weight="normal" fill="#0e0e0e" stroke="#0e0e0e" stroke-width="0.42">25</text>
<text x="148" y="360.9" font-size="9.8" text-anchor="middle" font-family="Liberation Sans, sans-serif" font-weight="normal" fill="#0e0e0e" stroke="#0e0e0e" stroke-width="0.42">21</text>
<text x="190" y="382.6" font-size="9.8" text-anchor="middle" font-family="Liberation Sans, sans-serif" font-weight="normal" fill="#0e0e0e" stroke="#0e0e0e" stroke-width="0.42">20</text>
<text x="275.3" y="427.6" font-size="9.8" text-anchor="middle" font-family="Liberation Sans, sans-serif" font-weight="normal" fill="#0e0e0e" stroke="#0e0e0e" stroke-width="0.42">15</text>
<text x="298.7" y="433.4" font-size="9.8" text-anchor="middle" font-family="Liberation Sans, sans-serif" font-weight="normal" fill="#0e0e0e" stroke="#0e0e0e" stroke-width="0.42">16</text>
<text x="320.3" y="439.2" font-size="9.8" text-anchor="middle" font-family="Liberation Sans, sans-serif" font-weight="normal" fill="#0e0e0e" stroke="#0e0e0e" stroke-width="0.42">6</text>
<text x="338.3" y="445.1" font-size="9.8" text-anchor="middle" font-family="Liberation Sans, sans-serif" font-weight="normal" fill="#0e0e0e" stroke="#0e0e0e" stroke-width="0.42">22</text>
<text x="358.3" y="450.1" font-size="9.8" text-anchor="middle" font-family="Liberation Sans, sans-serif" font-weight="normal" fill="#0e0e0e" stroke="#0e0e0e" stroke-width="0.42">19</text>
<text x="378.3" y="464.2" font-size="9.8" text-anchor="middle" font-family="Liberation Sans, sans-serif" font-weight="normal" fill="#0e0e0e" stroke="#0e0e0e" stroke-width="0.42">18</text>
<text x="403.3" y="457.6" font-size="9.8" text-anchor="middle" font-family="Liberation Sans, sans-serif" font-weight="normal" fill="#0e0e0e" stroke="#0e0e0e" stroke-width="0.42">17</text>
<text x="475.8" y="424.2" font-size="9.8" text-anchor="middle" font-family="Liberation Sans, sans-serif" font-weight="normal" fill="#0e0e0e" stroke="#0e0e0e" stroke-width="0.42">11</text>
<text x="512" y="434.2" font-size="9.8" text-anchor="middle" font-family="Liberation Sans, sans-serif" font-weight="normal" fill="#0e0e0e" stroke="#0e0e0e" stroke-width="0.42">23</text>
<text x="391" y="197.8" font-size="8.4" text-anchor="middle" font-family="Liberation Sans, sans-serif" font-weight="bold" fill="#0e0e0e">4</text>
<text x="63.3" y="564" font-size="13.4" text-anchor="start" font-family="Liberation Serif, sans-serif" font-weight="normal" fill="#0e0e0e">TP42662</text>
</svg>
</body></html>
